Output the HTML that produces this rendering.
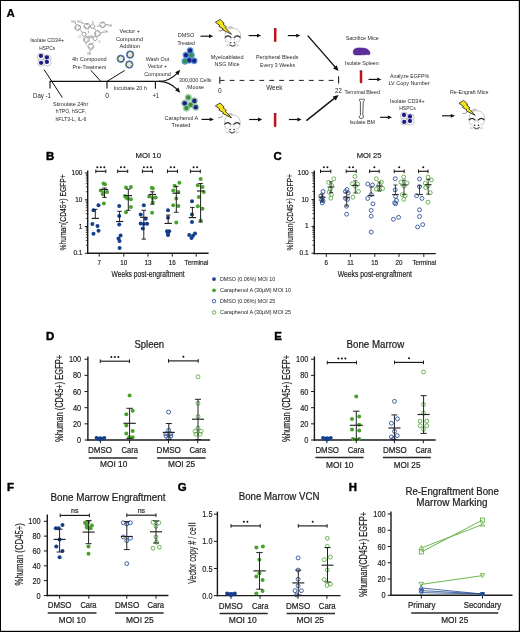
<!DOCTYPE html>
<html><head><meta charset="utf-8"><style>
html,body{margin:0;padding:0;background:#fff;}
body{width:520px;height:632px;overflow:hidden;}
svg{display:block;font-family:"Liberation Sans", sans-serif;will-change:transform;}
</style></head><body>
<svg width="520" height="632" viewBox="0 0 520 632">
<rect x="0" y="0" width="520" height="632" fill="#fff"/>
<text x="6.50" y="16.50" font-size="11.6" text-anchor="start" font-weight="bold" fill="#000" stroke="#000" stroke-width="0.2">A</text>
<text x="30.20" y="42.30" font-size="6.0" text-anchor="start" textLength="33.80" lengthAdjust="spacingAndGlyphs" fill="#2a2a2a">Isolate CD34+</text>
<text x="39.20" y="49.80" font-size="6.0" text-anchor="start" textLength="15.90" lengthAdjust="spacingAndGlyphs" fill="#2a2a2a">HSPCs</text>
<circle cx="41.00" cy="56.70" r="3.7" fill="#fff" stroke="#a0a0a0" stroke-width="0.6"/>
<circle cx="47.40" cy="58.40" r="3.7" fill="#fff" stroke="#a0a0a0" stroke-width="0.6"/>
<circle cx="41.20" cy="62.70" r="3.5" fill="#fff" stroke="#a0a0a0" stroke-width="0.6"/>
<circle cx="47.40" cy="62.30" r="3.7" fill="#fff" stroke="#a0a0a0" stroke-width="0.6"/>
<circle cx="40.90" cy="55.90" r="2.15" fill="#1d1d8a" stroke="none" stroke-width="0"/>
<circle cx="46.90" cy="57.30" r="2.15" fill="#1d1d8a" stroke="none" stroke-width="0"/>
<circle cx="41.10" cy="62.80" r="2.15" fill="#1d1d8a" stroke="none" stroke-width="0"/>
<circle cx="46.90" cy="61.90" r="2.15" fill="#1d1d8a" stroke="none" stroke-width="0"/>
<line x1="44.00" y1="69.50" x2="62.30" y2="97.50" stroke="#111" stroke-width="1.0"/>
<line x1="49.60" y1="81.40" x2="160.50" y2="81.40" stroke="#111" stroke-width="1.2"/>
<line x1="50.00" y1="81.40" x2="50.00" y2="88.60" stroke="#111" stroke-width="1.1"/>
<text x="33.00" y="97.60" font-size="6.8" text-anchor="start" textLength="18.00" lengthAdjust="spacingAndGlyphs" fill="#1c1c1c" stroke="none">Day -1</text>
<text x="53.00" y="106.00" font-size="6.0" text-anchor="start" textLength="35.20" lengthAdjust="spacingAndGlyphs" fill="#2a2a2a">Stimulate 24hr</text>
<text x="55.80" y="113.40" font-size="6.0" text-anchor="start" textLength="30.00" lengthAdjust="spacingAndGlyphs" fill="#2a2a2a">hTPO, hSCF,</text>
<text x="55.40" y="120.70" font-size="6.0" text-anchor="start" textLength="31.10" lengthAdjust="spacingAndGlyphs" fill="#2a2a2a">hFLT3-L, IL-6</text>
<path d="M80.38,29.15 L77.70,30.70 L75.02,29.15 L75.02,26.05 L77.70,24.50 L80.38,26.05 Z M90.00,26.20 L88.45,28.88 L85.35,28.88 L83.80,26.20 L85.35,23.52 L88.45,23.52 Z M105.70,24.80 L104.15,27.48 L101.05,27.48 L99.50,24.80 L101.05,22.12 L104.15,22.12 Z M100.18,35.05 L97.50,36.60 L94.82,35.05 L94.82,31.95 L97.50,30.40 L100.18,31.95 Z M89.18,41.15 L86.50,42.70 L83.82,41.15 L83.82,38.05 L86.50,36.50 L89.18,38.05 Z M93.90,46.40 L92.35,49.08 L89.25,49.08 L87.70,46.40 L89.25,43.72 L92.35,43.72 Z M92.60,24.10 L94.79,25.69 L93.95,28.26 L91.25,28.26 L90.41,25.69 Z M81.70,34.30 L83.29,32.11 L85.86,32.95 L85.86,35.65 L83.29,36.49 Z M97.30,38.60 L95.71,40.79 L93.14,39.95 L93.14,37.25 L95.71,36.41 Z M79.53,28.65 L77.70,29.71 M75.87,28.65 L75.87,26.55 M77.70,25.49 L79.53,26.55 M89.01,26.20 L87.95,28.03 M85.85,28.03 L84.79,26.20 M85.85,24.37 L87.95,24.37 M104.71,24.80 L103.65,26.63 M101.55,26.63 L100.49,24.80 M101.55,22.97 L103.65,22.97 M99.33,34.55 L97.50,35.61 M95.67,34.55 L95.67,32.45 M97.50,31.39 L99.33,32.45 M88.33,40.65 L86.50,41.71 M84.67,40.65 L84.67,38.55 M86.50,37.49 L88.33,38.55 M92.91,46.40 L91.85,48.23 M89.75,48.23 L88.69,46.40 M89.75,44.57 L91.85,44.57 M74.6,21.8 L76.2,24.6 M80.6,22.4 L84.2,23.6 M105.7,24.8 L108.2,24.6 M100.6,33.2 L104.0,31.8 M80.4,30.2 L82.4,32.6 M89.6,37.8 L93.0,37.0 M90.8,49.5 L89.4,52.0 M87.6,36.4 L93.4,36.0 M94.6,28.4 L96.2,30.6 M99.4,26.0 L97.0,26.4 M88.2,30.6 L88.4,33.0 M93.4,42.2 L92.6,43.4 M84.8,43.0 L86.6,44.6" stroke="#5a5a5a" stroke-width="0.55" fill="none"/>
<text x="71.60" y="22.50" font-size="2.6" text-anchor="start" fill="#666">HO</text>
<text x="77.60" y="23.10" font-size="2.6" text-anchor="start" fill="#666">HO</text>
<text x="107.80" y="26.80" font-size="2.6" text-anchor="start" fill="#666">OH</text>
<text x="103.80" y="33.40" font-size="2.6" text-anchor="start" fill="#666">OH</text>
<text x="92.00" y="23.80" font-size="2.6" text-anchor="start" fill="#666">O</text>
<text x="78.40" y="38.20" font-size="2.6" text-anchor="start" fill="#666">O</text>
<text x="98.40" y="43.00" font-size="2.6" text-anchor="start" fill="#666">O</text>
<text x="87.00" y="54.80" font-size="2.6" text-anchor="start" fill="#666">OH</text>
<text x="72.00" y="61.00" font-size="6.0" text-anchor="start" textLength="34.60" lengthAdjust="spacingAndGlyphs" fill="#2a2a2a">4h Compound</text>
<text x="72.60" y="68.80" font-size="6.0" text-anchor="start" textLength="33.40" lengthAdjust="spacingAndGlyphs" fill="#2a2a2a">Pre-Treatment</text>
<line x1="90.80" y1="70.20" x2="100.80" y2="81.40" stroke="#111" stroke-width="1.0"/>
<line x1="124.60" y1="70.50" x2="107.00" y2="81.40" stroke="#111" stroke-width="1.0"/>
<line x1="107.00" y1="81.40" x2="107.00" y2="88.60" stroke="#111" stroke-width="1.1"/>
<text x="107.20" y="97.80" font-size="6.8" text-anchor="middle" fill="#1c1c1c" stroke="none">0</text>
<text x="119.50" y="32.80" font-size="6.0" text-anchor="start" textLength="20.50" lengthAdjust="spacingAndGlyphs" fill="#2a2a2a">Vector +</text>
<text x="116.00" y="40.60" font-size="6.0" text-anchor="start" textLength="27.00" lengthAdjust="spacingAndGlyphs" fill="#2a2a2a">Compound</text>
<text x="119.50" y="48.00" font-size="6.0" text-anchor="start" textLength="20.50" lengthAdjust="spacingAndGlyphs" fill="#2a2a2a">Addition</text>
<circle cx="120.80" cy="58.80" r="3.75" fill="#f2f2f6" stroke="#5060d8" stroke-width="0.9"/>
<circle cx="120.80" cy="58.80" r="3.0" fill="none" stroke="#2d5e2d" stroke-width="1.0"/>
<circle cx="120.80" cy="58.80" r="2.0" fill="#e2e2e2" stroke="none" stroke-width="0"/>
<circle cx="120.30" cy="58.30" r="0.8" fill="#f4f4f4" stroke="none" stroke-width="0"/>
<circle cx="130.10" cy="54.60" r="3.75" fill="#f2f2f6" stroke="#5060d8" stroke-width="0.9"/>
<circle cx="130.10" cy="54.60" r="3.0" fill="none" stroke="#2d5e2d" stroke-width="1.0"/>
<circle cx="130.10" cy="54.60" r="2.0" fill="#e2e2e2" stroke="none" stroke-width="0"/>
<circle cx="129.60" cy="54.10" r="0.8" fill="#f4f4f4" stroke="none" stroke-width="0"/>
<circle cx="129.30" cy="64.50" r="3.75" fill="#f2f2f6" stroke="#5060d8" stroke-width="0.9"/>
<circle cx="129.30" cy="64.50" r="3.0" fill="none" stroke="#2d5e2d" stroke-width="1.0"/>
<circle cx="129.30" cy="64.50" r="2.0" fill="#e2e2e2" stroke="none" stroke-width="0"/>
<circle cx="128.80" cy="64.00" r="0.8" fill="#f4f4f4" stroke="none" stroke-width="0"/>
<text x="113.80" y="90.30" font-size="6.0" text-anchor="start" textLength="33.20" lengthAdjust="spacingAndGlyphs" fill="#2a2a2a">Incubate 20 h</text>
<line x1="155.40" y1="81.40" x2="155.40" y2="88.70" stroke="#111" stroke-width="1.1"/>
<text x="152.40" y="97.60" font-size="6.8" text-anchor="start" textLength="6.60" lengthAdjust="spacingAndGlyphs" fill="#1c1c1c" stroke="none">+1</text>
<text x="145.70" y="60.60" font-size="6.0" text-anchor="start" textLength="23.50" lengthAdjust="spacingAndGlyphs" fill="#2a2a2a">Wash Out</text>
<text x="147.70" y="68.00" font-size="6.0" text-anchor="start" textLength="19.50" lengthAdjust="spacingAndGlyphs" fill="#2a2a2a">Vector +</text>
<text x="144.20" y="75.60" font-size="6.0" text-anchor="start" textLength="26.60" lengthAdjust="spacingAndGlyphs" fill="#2a2a2a">Compound</text>
<path d="M159,81.4 C167,81.4 172,78.5 177.2,73.3" stroke="#111" stroke-width="1.1" fill="none"/>
<path d="M159,81.4 C167,81.4 172,84.3 177.2,89.4" stroke="#111" stroke-width="1.1" fill="none"/>
<polygon points="180.2,69.8 175.2,72.2 178.4,75.2" fill="#111"/>
<polygon points="180.2,92.8 175.2,90.6 178.4,87.5" fill="#111"/>
<text x="179.00" y="81.50" font-size="6.0" text-anchor="start" textLength="32.50" lengthAdjust="spacingAndGlyphs" fill="#2a2a2a">300,000 Cells</text>
<text x="186.60" y="88.80" font-size="6.0" text-anchor="start" textLength="17.40" lengthAdjust="spacingAndGlyphs" fill="#2a2a2a">/Mouse</text>
<text x="177.70" y="36.80" font-size="6.0" text-anchor="start" textLength="16.60" lengthAdjust="spacingAndGlyphs" fill="#2a2a2a">DMSO</text>
<text x="177.40" y="44.60" font-size="6.0" text-anchor="start" textLength="17.60" lengthAdjust="spacingAndGlyphs" fill="#2a2a2a">Treated</text>
<circle cx="189.30" cy="60.20" r="3.1" fill="#62b4ea" stroke="#2c6cc4" stroke-width="0.5"/>
<circle cx="190.10" cy="50.50" r="3.1" fill="#62b4ea" stroke="#2c6cc4" stroke-width="0.5"/>
<circle cx="185.90" cy="55.10" r="3.1" fill="#62b4ea" stroke="#2c6cc4" stroke-width="0.5"/>
<circle cx="191.40" cy="55.10" r="3.1" fill="#62b4ea" stroke="#2c6cc4" stroke-width="0.5"/>
<circle cx="184.90" cy="61.30" r="3.1" fill="#62b4ea" stroke="#2c6cc4" stroke-width="0.5"/>
<circle cx="194.20" cy="60.80" r="3.1" fill="#62b4ea" stroke="#2c6cc4" stroke-width="0.5"/>
<circle cx="189.30" cy="60.20" r="2.2" fill="#1e1e86" stroke="none" stroke-width="0"/>
<circle cx="190.10" cy="50.50" r="2.2" fill="#1e1e86" stroke="none" stroke-width="0"/>
<circle cx="185.90" cy="55.10" r="2.2" fill="#1e1e86" stroke="none" stroke-width="0"/>
<circle cx="191.40" cy="55.10" r="2.2" fill="#3d8d3d" stroke="none" stroke-width="0"/>
<circle cx="184.90" cy="61.30" r="2.2" fill="#3d8d3d" stroke="none" stroke-width="0"/>
<circle cx="194.20" cy="60.80" r="2.2" fill="#1e1e86" stroke="none" stroke-width="0"/>
<text x="164.50" y="120.00" font-size="6.0" text-anchor="start" textLength="33.70" lengthAdjust="spacingAndGlyphs" fill="#2a2a2a">Caraphenol A</text>
<text x="171.60" y="126.80" font-size="6.0" text-anchor="start" textLength="18.80" lengthAdjust="spacingAndGlyphs" fill="#2a2a2a">Treated</text>
<circle cx="188.30" cy="97.50" r="3.3" fill="#b2dcc6" stroke="#78b888" stroke-width="0.5"/>
<circle cx="194.40" cy="100.90" r="3.3" fill="#b2dcc6" stroke="#78b888" stroke-width="0.5"/>
<circle cx="184.70" cy="103.20" r="3.3" fill="#b2dcc6" stroke="#78b888" stroke-width="0.5"/>
<circle cx="190.60" cy="104.70" r="3.3" fill="#b2dcc6" stroke="#78b888" stroke-width="0.5"/>
<circle cx="186.40" cy="108.10" r="3.3" fill="#b2dcc6" stroke="#78b888" stroke-width="0.5"/>
<circle cx="195.70" cy="107.30" r="3.3" fill="#b2dcc6" stroke="#78b888" stroke-width="0.5"/>
<circle cx="188.30" cy="97.50" r="2.3" fill="#3d8d3d" stroke="none" stroke-width="0"/>
<circle cx="194.40" cy="100.90" r="2.3" fill="#1e1e86" stroke="none" stroke-width="0"/>
<circle cx="184.70" cy="103.20" r="2.3" fill="#1e1e86" stroke="none" stroke-width="0"/>
<circle cx="190.60" cy="104.70" r="2.3" fill="#3d8d3d" stroke="none" stroke-width="0"/>
<circle cx="186.40" cy="108.10" r="2.3" fill="#3d8d3d" stroke="none" stroke-width="0"/>
<circle cx="195.70" cy="107.30" r="2.3" fill="#1e1e86" stroke="none" stroke-width="0"/>
<line x1="200.50" y1="36.20" x2="209.50" y2="36.20" stroke="#111" stroke-width="1.15"/>
<polygon points="213.20,36.20 209.00,38.10 209.00,34.30" fill="#111"/>
<line x1="201.50" y1="119.40" x2="210.30" y2="119.40" stroke="#111" stroke-width="1.15"/>
<polygon points="214.00,119.40 209.80,121.30 209.80,117.50" fill="#111"/>
<line x1="248.60" y1="35.60" x2="257.50" y2="35.60" stroke="#111" stroke-width="1.15"/>
<polygon points="261.20,35.60 257.00,37.50 257.00,33.70" fill="#111"/>
<line x1="287.80" y1="35.60" x2="296.70" y2="35.60" stroke="#111" stroke-width="1.15"/>
<polygon points="300.40,35.60 296.20,37.50 296.20,33.70" fill="#111"/>
<line x1="249.20" y1="119.50" x2="258.50" y2="119.50" stroke="#111" stroke-width="1.15"/>
<polygon points="262.20,119.50 258.00,121.40 258.00,117.60" fill="#111"/>
<line x1="288.90" y1="119.50" x2="297.90" y2="119.50" stroke="#111" stroke-width="1.15"/>
<polygon points="301.60,119.50 297.40,121.40 297.40,117.60" fill="#111"/>
<line x1="307.70" y1="35.60" x2="335.25" y2="67.16" stroke="#111" stroke-width="1.4"/>
<polygon points="338.60,71.00 333.03,68.43 336.80,65.14" fill="#111"/>
<line x1="306.40" y1="120.60" x2="334.61" y2="98.17" stroke="#111" stroke-width="1.4"/>
<polygon points="338.60,95.00 335.77,100.44 332.66,96.53" fill="#111"/>
<line x1="368.50" y1="79.40" x2="377.70" y2="79.40" stroke="#111" stroke-width="1.15"/>
<polygon points="381.40,79.40 377.20,81.30 377.20,77.50" fill="#111"/>
<line x1="380.00" y1="117.30" x2="388.30" y2="117.30" stroke="#111" stroke-width="1.15"/>
<polygon points="392.00,117.30 387.80,119.20 387.80,115.40" fill="#111"/>
<line x1="442.00" y1="115.80" x2="451.30" y2="115.80" stroke="#111" stroke-width="1.15"/>
<polygon points="455.00,115.80 450.80,117.70 450.80,113.90" fill="#111"/>
<rect x="273.95" y="28.20" width="2.5" height="13.80" rx="1" fill="#c3121c"/>
<rect x="273.95" y="28.20" width="2.5" height="1.2" fill="#7a2a30"/>
<rect x="273.85" y="113.10" width="2.5" height="13.80" rx="1" fill="#c3121c"/>
<rect x="273.85" y="113.10" width="2.5" height="1.2" fill="#7a2a30"/>
<rect x="359.75" y="70.50" width="2.5" height="12.70" rx="1" fill="#c3121c"/>
<rect x="359.75" y="70.50" width="2.5" height="1.2" fill="#7a2a30"/>
<line x1="219.80" y1="80.40" x2="338.60" y2="80.40" stroke="#222" stroke-width="1.0" stroke-dasharray="4.8 5.1"/>
<line x1="219.80" y1="76.80" x2="219.80" y2="83.80" stroke="#222" stroke-width="1.1"/>
<line x1="338.60" y1="76.20" x2="338.60" y2="83.60" stroke="#222" stroke-width="1.1"/>
<text x="219.80" y="92.80" font-size="6.6" text-anchor="middle" fill="#1c1c1c" stroke="none">0</text>
<text x="266.20" y="90.00" font-size="6.6" text-anchor="start" textLength="16.20" lengthAdjust="spacingAndGlyphs" fill="#1c1c1c" stroke="none">Week</text>
<text x="335.00" y="93.20" font-size="7.0" text-anchor="start" textLength="6.80" lengthAdjust="spacingAndGlyphs" fill="#1c1c1c" stroke="none">22</text>
<text x="210.80" y="59.00" font-size="6.0" text-anchor="start" textLength="32.70" lengthAdjust="spacingAndGlyphs" fill="#2a2a2a">Myeloablated</text>
<text x="214.60" y="66.40" font-size="6.0" text-anchor="start" textLength="24.90" lengthAdjust="spacingAndGlyphs" fill="#2a2a2a">NSG Mice</text>
<g transform="translate(0.00,0.00)"><path d="M218.6,30.8 Q220.6,31.6 223.2,29.6" stroke="#666" stroke-width="0.7" fill="none"/><path d="M226.6,30.6 C228,27.6 235.5,27.2 238.6,30.4 C240.6,32.6 241,35.6 240.2,37.6 L225,37.6 C224.8,34.6 225.4,32.2 226.6,30.6 Z" fill="#fff" stroke="#8c8c8c" stroke-width="0.5"/><path d="M227.0,27.9 C228.6,25.6 232.2,25.6 233.4,27.6 C232.2,28.6 229.2,28.8 227.0,27.9 Z" fill="#c4c4c4"/><circle cx="228.0" cy="38.7" r="3.1" fill="#fff" stroke="#999" stroke-width="0.5"/><circle cx="237.3" cy="38.7" r="3.1" fill="#fff" stroke="#999" stroke-width="0.5"/><path d="M229.0,40.2 C228.4,44.2 230.4,46.7 232.6,46.7 C234.8,46.7 236.8,44.2 236.2,40.2 Z" fill="#fff" stroke="none"/><path d="M228.8,43.4 C229.6,45.6 231,46.7 232.6,46.7 C234.2,46.7 235.6,45.6 236.4,43.4" fill="none" stroke="#999" stroke-width="0.5"/><path d="M224.9,37.6 Q228,34.1 231.2,37.6" stroke="#333" stroke-width="1.2" fill="none"/><path d="M234.1,37.6 Q237.3,34.1 240.5,37.6" stroke="#333" stroke-width="1.2" fill="none"/><circle cx="230.6" cy="42.7" r="0.8" fill="#222"/><circle cx="234.5" cy="42.7" r="0.8" fill="#222"/><path d="M229.5,44.9 Q232.5,47.2 235.6,44.9" stroke="#2a2a2a" stroke-width="0.9" fill="none"/><path d="M226.6,43.8 L228.6,46.9 M225.8,45.6 L228.4,45.8 M238.6,43.8 L236.6,46.9 M239.4,45.6 L236.8,45.8" stroke="#b0b0b0" stroke-width="0.5" fill="none"/></g>
<polygon points="215.40,22.30 220.00,19.40 224.20,23.30 223.00,24.00 226.40,26.90 225.20,27.60 231.60,34.30 222.60,29.80 223.40,29.00 218.80,26.30 219.90,25.50" fill="#f2e418" stroke="#111" stroke-width="0.75" stroke-linejoin="miter"/>
<g transform="translate(-0.40,86.80)"><path d="M218.6,30.8 Q220.6,31.6 223.2,29.6" stroke="#666" stroke-width="0.7" fill="none"/><path d="M226.6,30.6 C228,27.6 235.5,27.2 238.6,30.4 C240.6,32.6 241,35.6 240.2,37.6 L225,37.6 C224.8,34.6 225.4,32.2 226.6,30.6 Z" fill="#fff" stroke="#8c8c8c" stroke-width="0.5"/><path d="M227.0,27.9 C228.6,25.6 232.2,25.6 233.4,27.6 C232.2,28.6 229.2,28.8 227.0,27.9 Z" fill="#c4c4c4"/><circle cx="228.0" cy="38.7" r="3.1" fill="#fff" stroke="#999" stroke-width="0.5"/><circle cx="237.3" cy="38.7" r="3.1" fill="#fff" stroke="#999" stroke-width="0.5"/><path d="M229.0,40.2 C228.4,44.2 230.4,46.7 232.6,46.7 C234.8,46.7 236.8,44.2 236.2,40.2 Z" fill="#fff" stroke="none"/><path d="M228.8,43.4 C229.6,45.6 231,46.7 232.6,46.7 C234.2,46.7 235.6,45.6 236.4,43.4" fill="none" stroke="#999" stroke-width="0.5"/><path d="M224.9,37.6 Q228,34.1 231.2,37.6" stroke="#333" stroke-width="1.2" fill="none"/><path d="M234.1,37.6 Q237.3,34.1 240.5,37.6" stroke="#333" stroke-width="1.2" fill="none"/><circle cx="230.6" cy="42.7" r="0.8" fill="#222"/><circle cx="234.5" cy="42.7" r="0.8" fill="#222"/><path d="M229.5,44.9 Q232.5,47.2 235.6,44.9" stroke="#2a2a2a" stroke-width="0.9" fill="none"/><path d="M226.6,43.8 L228.6,46.9 M225.8,45.6 L228.4,45.8 M238.6,43.8 L236.6,46.9 M239.4,45.6 L236.8,45.8" stroke="#b0b0b0" stroke-width="0.5" fill="none"/></g>
<polygon points="215.40,105.90 220.00,103.00 224.20,106.90 223.00,107.60 226.40,110.50 225.20,111.20 231.60,117.90 222.60,113.40 223.40,112.60 218.80,109.90 219.90,109.10" fill="#f2e418" stroke="#111" stroke-width="0.75" stroke-linejoin="miter"/>
<g transform="translate(244.00,82.60)"><path d="M218.6,30.8 Q220.6,31.6 223.2,29.6" stroke="#666" stroke-width="0.7" fill="none"/><path d="M226.6,30.6 C228,27.6 235.5,27.2 238.6,30.4 C240.6,32.6 241,35.6 240.2,37.6 L225,37.6 C224.8,34.6 225.4,32.2 226.6,30.6 Z" fill="#fff" stroke="#8c8c8c" stroke-width="0.5"/><path d="M227.0,27.9 C228.6,25.6 232.2,25.6 233.4,27.6 C232.2,28.6 229.2,28.8 227.0,27.9 Z" fill="#c4c4c4"/><circle cx="228.0" cy="38.7" r="3.1" fill="#fff" stroke="#999" stroke-width="0.5"/><circle cx="237.3" cy="38.7" r="3.1" fill="#fff" stroke="#999" stroke-width="0.5"/><path d="M229.0,40.2 C228.4,44.2 230.4,46.7 232.6,46.7 C234.8,46.7 236.8,44.2 236.2,40.2 Z" fill="#fff" stroke="none"/><path d="M228.8,43.4 C229.6,45.6 231,46.7 232.6,46.7 C234.2,46.7 235.6,45.6 236.4,43.4" fill="none" stroke="#999" stroke-width="0.5"/><path d="M224.9,37.6 Q228,34.1 231.2,37.6" stroke="#333" stroke-width="1.2" fill="none"/><path d="M234.1,37.6 Q237.3,34.1 240.5,37.6" stroke="#333" stroke-width="1.2" fill="none"/><circle cx="230.6" cy="42.7" r="0.8" fill="#222"/><circle cx="234.5" cy="42.7" r="0.8" fill="#222"/><path d="M229.5,44.9 Q232.5,47.2 235.6,44.9" stroke="#2a2a2a" stroke-width="0.9" fill="none"/><path d="M226.6,43.8 L228.6,46.9 M225.8,45.6 L228.4,45.8 M238.6,43.8 L236.6,46.9 M239.4,45.6 L236.8,45.8" stroke="#b0b0b0" stroke-width="0.5" fill="none"/></g>
<polygon points="459.00,103.30 463.60,100.40 467.80,104.30 466.60,105.00 470.00,107.90 468.80,108.60 475.20,115.30 466.20,110.80 467.00,110.00 462.40,107.30 463.50,106.50" fill="#f2e418" stroke="#111" stroke-width="0.75" stroke-linejoin="miter"/>
<text x="256.00" y="59.00" font-size="6.0" text-anchor="start" textLength="42.50" lengthAdjust="spacingAndGlyphs" fill="#2a2a2a">Peripheral Bleeds</text>
<text x="260.00" y="66.80" font-size="6.0" text-anchor="start" textLength="35.00" lengthAdjust="spacingAndGlyphs" fill="#2a2a2a">Every 3 Weeks</text>
<text x="345.70" y="40.00" font-size="6.0" text-anchor="start" textLength="33.10" lengthAdjust="spacingAndGlyphs" fill="#2a2a2a">Sacrifice Mice</text>
<path d="M354,49.6 C355.5,47.6 359,47.8 363,48.0 C367,48.2 369.6,50.2 370,52.6 C370.3,54.6 369,55.2 367.5,54.6 C366,54.2 365,55.2 363.2,54.8 C361.5,54.4 360.5,55.4 358.8,55.0 C357,54.6 355.4,55.4 354,54.4 C352.8,53.4 353,50.8 354,49.6 Z" stroke="#3b1a80" stroke-width="0.5" fill="#5b2e9a"/>
<text x="345.00" y="64.80" font-size="6.0" text-anchor="start" textLength="33.80" lengthAdjust="spacingAndGlyphs" fill="#2a2a2a">Isolate Spleen</text>
<text x="344.60" y="93.80" font-size="6.0" text-anchor="start" textLength="35.40" lengthAdjust="spacingAndGlyphs" fill="#2a2a2a">Terminal Bleed</text>
<path d="M359.6,100.2 C359,99 360.6,98.6 361.2,99.6 C362,99.2 363.2,98.8 364.2,99.2 C365,99.8 364.4,101 363.2,101.6 L362.8,115.2 C364,116 363.6,118.4 361.8,118.3 C360.6,118.8 359,118.2 359.2,116.8 C359.4,116 360,115.6 360.4,115.2 L360.4,101.8 C359.8,101.4 359.4,100.8 359.6,100.2 Z" stroke="#111" stroke-width="0.7" fill="#fff"/>
<text x="349.50" y="123.60" font-size="6.0" text-anchor="start" textLength="25.50" lengthAdjust="spacingAndGlyphs" fill="#2a2a2a">Isolate BM</text>
<text x="390.00" y="77.50" font-size="6.0" text-anchor="start" textLength="39.20" lengthAdjust="spacingAndGlyphs" fill="#2a2a2a">Analyze EGFP%</text>
<text x="388.50" y="85.20" font-size="6.0" text-anchor="start" textLength="41.20" lengthAdjust="spacingAndGlyphs" fill="#2a2a2a">LV Copy Number</text>
<text x="390.00" y="102.60" font-size="6.0" text-anchor="start" textLength="34.60" lengthAdjust="spacingAndGlyphs" fill="#2a2a2a">Isolate CD34+</text>
<text x="399.20" y="110.00" font-size="6.0" text-anchor="start" textLength="16.50" lengthAdjust="spacingAndGlyphs" fill="#2a2a2a">HSPCs</text>
<circle cx="404.10" cy="115.80" r="3.7" fill="#fff" stroke="#a0a0a0" stroke-width="0.6"/>
<circle cx="410.50" cy="117.50" r="3.7" fill="#fff" stroke="#a0a0a0" stroke-width="0.6"/>
<circle cx="404.30" cy="121.80" r="3.5" fill="#fff" stroke="#a0a0a0" stroke-width="0.6"/>
<circle cx="410.50" cy="121.40" r="3.7" fill="#fff" stroke="#a0a0a0" stroke-width="0.6"/>
<circle cx="404.00" cy="115.00" r="2.15" fill="#1d1d8a" stroke="none" stroke-width="0"/>
<circle cx="410.00" cy="116.40" r="2.15" fill="#1d1d8a" stroke="none" stroke-width="0"/>
<circle cx="404.20" cy="121.90" r="2.15" fill="#1d1d8a" stroke="none" stroke-width="0"/>
<circle cx="410.00" cy="121.00" r="2.15" fill="#1d1d8a" stroke="none" stroke-width="0"/>
<text x="450.00" y="93.80" font-size="6.0" text-anchor="start" textLength="38.50" lengthAdjust="spacingAndGlyphs" fill="#2a2a2a">Re-Engraft Mice</text>
<text x="46.00" y="159.50" font-size="11.4" text-anchor="start" font-weight="bold" fill="#000" stroke="#000" stroke-width="0.45">B</text>
<text x="135.60" y="157.80" font-size="8.0" text-anchor="start" textLength="25.40" lengthAdjust="spacingAndGlyphs" fill="#1c1c1c" stroke="#1c1c1c" stroke-width="0.18">MOI 10</text>
<line x1="87.70" y1="170.60" x2="87.70" y2="254.00" stroke="#1a1a1a" stroke-width="1.4"/>
<line x1="87.00" y1="253.30" x2="208.60" y2="253.30" stroke="#1a1a1a" stroke-width="1.4"/>
<line x1="84.90" y1="173.00" x2="87.70" y2="173.00" stroke="#1a1a1a" stroke-width="1.0"/>
<text x="71.59" y="175.00" font-size="7.2" text-anchor="start" textLength="10.81" lengthAdjust="spacingAndGlyphs" fill="#1c1c1c" stroke="#1c1c1c" stroke-width="0.18">100</text>
<line x1="84.90" y1="199.77" x2="87.70" y2="199.77" stroke="#1a1a1a" stroke-width="1.0"/>
<text x="75.19" y="201.77" font-size="7.2" text-anchor="start" textLength="7.21" lengthAdjust="spacingAndGlyphs" fill="#1c1c1c" stroke="#1c1c1c" stroke-width="0.18">10</text>
<line x1="84.90" y1="226.54" x2="87.70" y2="226.54" stroke="#1a1a1a" stroke-width="1.0"/>
<text x="78.80" y="228.54" font-size="7.2" text-anchor="start" textLength="3.60" lengthAdjust="spacingAndGlyphs" fill="#1c1c1c" stroke="#1c1c1c" stroke-width="0.18">1</text>
<line x1="84.90" y1="253.31" x2="87.70" y2="253.31" stroke="#1a1a1a" stroke-width="1.0"/>
<text x="73.39" y="255.31" font-size="7.2" text-anchor="start" textLength="9.01" lengthAdjust="spacingAndGlyphs" fill="#1c1c1c" stroke="#1c1c1c" stroke-width="0.18">0.1</text>
<line x1="85.80" y1="191.71" x2="87.70" y2="191.71" stroke="#1a1a1a" stroke-width="0.8"/>
<line x1="85.80" y1="187.00" x2="87.70" y2="187.00" stroke="#1a1a1a" stroke-width="0.8"/>
<line x1="85.80" y1="183.65" x2="87.70" y2="183.65" stroke="#1a1a1a" stroke-width="0.8"/>
<line x1="85.80" y1="181.06" x2="87.70" y2="181.06" stroke="#1a1a1a" stroke-width="0.8"/>
<line x1="85.80" y1="178.94" x2="87.70" y2="178.94" stroke="#1a1a1a" stroke-width="0.8"/>
<line x1="85.80" y1="177.15" x2="87.70" y2="177.15" stroke="#1a1a1a" stroke-width="0.8"/>
<line x1="85.80" y1="175.59" x2="87.70" y2="175.59" stroke="#1a1a1a" stroke-width="0.8"/>
<line x1="85.80" y1="174.22" x2="87.70" y2="174.22" stroke="#1a1a1a" stroke-width="0.8"/>
<line x1="85.80" y1="218.48" x2="87.70" y2="218.48" stroke="#1a1a1a" stroke-width="0.8"/>
<line x1="85.80" y1="213.77" x2="87.70" y2="213.77" stroke="#1a1a1a" stroke-width="0.8"/>
<line x1="85.80" y1="210.42" x2="87.70" y2="210.42" stroke="#1a1a1a" stroke-width="0.8"/>
<line x1="85.80" y1="207.83" x2="87.70" y2="207.83" stroke="#1a1a1a" stroke-width="0.8"/>
<line x1="85.80" y1="205.71" x2="87.70" y2="205.71" stroke="#1a1a1a" stroke-width="0.8"/>
<line x1="85.80" y1="203.92" x2="87.70" y2="203.92" stroke="#1a1a1a" stroke-width="0.8"/>
<line x1="85.80" y1="202.36" x2="87.70" y2="202.36" stroke="#1a1a1a" stroke-width="0.8"/>
<line x1="85.80" y1="200.99" x2="87.70" y2="200.99" stroke="#1a1a1a" stroke-width="0.8"/>
<line x1="85.80" y1="245.25" x2="87.70" y2="245.25" stroke="#1a1a1a" stroke-width="0.8"/>
<line x1="85.80" y1="240.54" x2="87.70" y2="240.54" stroke="#1a1a1a" stroke-width="0.8"/>
<line x1="85.80" y1="237.19" x2="87.70" y2="237.19" stroke="#1a1a1a" stroke-width="0.8"/>
<line x1="85.80" y1="234.60" x2="87.70" y2="234.60" stroke="#1a1a1a" stroke-width="0.8"/>
<line x1="85.80" y1="232.48" x2="87.70" y2="232.48" stroke="#1a1a1a" stroke-width="0.8"/>
<line x1="85.80" y1="230.69" x2="87.70" y2="230.69" stroke="#1a1a1a" stroke-width="0.8"/>
<line x1="85.80" y1="229.13" x2="87.70" y2="229.13" stroke="#1a1a1a" stroke-width="0.8"/>
<line x1="85.80" y1="227.76" x2="87.70" y2="227.76" stroke="#1a1a1a" stroke-width="0.8"/>
<text transform="translate(65.80,250.40) rotate(-90)" x="0" y="0" font-size="9.4" textLength="76.00" lengthAdjust="spacingAndGlyphs" fill="#1c1c1c" stroke="#1c1c1c" stroke-width="0.2">%human(CD45+) EGFP+</text>
<line x1="99.20" y1="253.30" x2="99.20" y2="256.60" stroke="#1a1a1a" stroke-width="1.0"/>
<text x="99.20" y="265.00" font-size="7.6" text-anchor="middle" textLength="3.47" lengthAdjust="spacingAndGlyphs" fill="#1c1c1c" stroke="#1c1c1c" stroke-width="0.18">7</text>
<line x1="123.80" y1="253.30" x2="123.80" y2="256.60" stroke="#1a1a1a" stroke-width="1.0"/>
<text x="123.80" y="265.00" font-size="7.6" text-anchor="middle" textLength="6.93" lengthAdjust="spacingAndGlyphs" fill="#1c1c1c" stroke="#1c1c1c" stroke-width="0.18">10</text>
<line x1="148.00" y1="253.30" x2="148.00" y2="256.60" stroke="#1a1a1a" stroke-width="1.0"/>
<text x="148.00" y="265.00" font-size="7.6" text-anchor="middle" textLength="6.93" lengthAdjust="spacingAndGlyphs" fill="#1c1c1c" stroke="#1c1c1c" stroke-width="0.18">13</text>
<line x1="172.30" y1="253.30" x2="172.30" y2="256.60" stroke="#1a1a1a" stroke-width="1.0"/>
<text x="172.30" y="265.00" font-size="7.6" text-anchor="middle" textLength="6.93" lengthAdjust="spacingAndGlyphs" fill="#1c1c1c" stroke="#1c1c1c" stroke-width="0.18">16</text>
<line x1="196.20" y1="253.30" x2="196.20" y2="256.60" stroke="#1a1a1a" stroke-width="1.0"/>
<text x="184.60" y="265.00" font-size="7.4" text-anchor="start" textLength="23.90" lengthAdjust="spacingAndGlyphs" fill="#1c1c1c" stroke="#1c1c1c" stroke-width="0.18">Terminal</text>
<text x="111.50" y="276.80" font-size="9.3" text-anchor="start" textLength="73.10" lengthAdjust="spacingAndGlyphs" fill="#1c1c1c" stroke="#1c1c1c" stroke-width="0.18">Weeks post-engraftment</text>
<circle cx="98.50" cy="205.30" r="2.0" fill="#143f8c" stroke="none" stroke-width="0"/>
<circle cx="93.50" cy="210.30" r="2.0" fill="#143f8c" stroke="none" stroke-width="0"/>
<circle cx="92.40" cy="224.10" r="2.0" fill="#143f8c" stroke="none" stroke-width="0"/>
<circle cx="97.50" cy="226.00" r="2.0" fill="#143f8c" stroke="none" stroke-width="0"/>
<circle cx="98.50" cy="230.80" r="2.0" fill="#143f8c" stroke="none" stroke-width="0"/>
<circle cx="93.50" cy="233.80" r="2.0" fill="#143f8c" stroke="none" stroke-width="0"/>
<circle cx="103.50" cy="183.50" r="2.0" fill="#4aa22e" stroke="none" stroke-width="0"/>
<circle cx="105.00" cy="184.20" r="2.0" fill="#4aa22e" stroke="none" stroke-width="0"/>
<circle cx="100.70" cy="190.60" r="2.0" fill="#4aa22e" stroke="none" stroke-width="0"/>
<circle cx="103.50" cy="192.80" r="2.0" fill="#4aa22e" stroke="none" stroke-width="0"/>
<circle cx="107.00" cy="192.00" r="2.0" fill="#4aa22e" stroke="none" stroke-width="0"/>
<circle cx="102.80" cy="194.20" r="2.0" fill="#4aa22e" stroke="none" stroke-width="0"/>
<circle cx="103.80" cy="203.50" r="2.0" fill="#4aa22e" stroke="none" stroke-width="0"/>
<line x1="95.30" y1="209.40" x2="95.30" y2="218.40" stroke="#222" stroke-width="1.0"/>
<line x1="91.60" y1="218.40" x2="99.00" y2="218.40" stroke="#222" stroke-width="1.15"/>
<line x1="93.10" y1="209.40" x2="97.50" y2="209.40" stroke="#222" stroke-width="1.0"/>
<line x1="104.50" y1="188.00" x2="104.50" y2="197.40" stroke="#222" stroke-width="1.0"/>
<line x1="100.80" y1="189.50" x2="108.20" y2="189.50" stroke="#222" stroke-width="1.15"/>
<line x1="102.30" y1="188.00" x2="106.70" y2="188.00" stroke="#222" stroke-width="1.0"/>
<line x1="102.30" y1="197.40" x2="106.70" y2="197.40" stroke="#222" stroke-width="1.0"/>
<circle cx="119.20" cy="206.00" r="2.0" fill="#143f8c" stroke="none" stroke-width="0"/>
<circle cx="119.20" cy="216.00" r="2.0" fill="#143f8c" stroke="none" stroke-width="0"/>
<circle cx="119.20" cy="224.50" r="2.0" fill="#143f8c" stroke="none" stroke-width="0"/>
<circle cx="120.60" cy="235.50" r="2.0" fill="#143f8c" stroke="none" stroke-width="0"/>
<circle cx="118.50" cy="238.40" r="2.0" fill="#143f8c" stroke="none" stroke-width="0"/>
<circle cx="119.50" cy="240.90" r="2.0" fill="#143f8c" stroke="none" stroke-width="0"/>
<circle cx="119.60" cy="247.90" r="2.0" fill="#143f8c" stroke="none" stroke-width="0"/>
<circle cx="126.00" cy="187.50" r="2.0" fill="#4aa22e" stroke="none" stroke-width="0"/>
<circle cx="130.90" cy="187.00" r="2.0" fill="#4aa22e" stroke="none" stroke-width="0"/>
<circle cx="124.90" cy="196.00" r="2.0" fill="#4aa22e" stroke="none" stroke-width="0"/>
<circle cx="127.70" cy="198.50" r="2.0" fill="#4aa22e" stroke="none" stroke-width="0"/>
<circle cx="130.90" cy="199.20" r="2.0" fill="#4aa22e" stroke="none" stroke-width="0"/>
<circle cx="126.30" cy="197.80" r="2.0" fill="#4aa22e" stroke="none" stroke-width="0"/>
<circle cx="130.90" cy="207.00" r="2.0" fill="#4aa22e" stroke="none" stroke-width="0"/>
<circle cx="126.00" cy="212.30" r="2.0" fill="#4aa22e" stroke="none" stroke-width="0"/>
<line x1="119.60" y1="211.30" x2="119.60" y2="221.50" stroke="#222" stroke-width="1.0"/>
<line x1="115.90" y1="221.50" x2="123.30" y2="221.50" stroke="#222" stroke-width="1.15"/>
<line x1="117.40" y1="211.30" x2="121.80" y2="211.30" stroke="#222" stroke-width="1.0"/>
<line x1="128.30" y1="189.20" x2="128.30" y2="210.30" stroke="#222" stroke-width="1.0"/>
<line x1="124.60" y1="195.60" x2="132.00" y2="195.60" stroke="#222" stroke-width="1.15"/>
<line x1="126.10" y1="189.20" x2="130.50" y2="189.20" stroke="#222" stroke-width="1.0"/>
<line x1="126.10" y1="210.30" x2="130.50" y2="210.30" stroke="#222" stroke-width="1.0"/>
<circle cx="143.80" cy="205.30" r="2.0" fill="#143f8c" stroke="none" stroke-width="0"/>
<circle cx="140.70" cy="214.60" r="2.0" fill="#143f8c" stroke="none" stroke-width="0"/>
<circle cx="145.70" cy="218.80" r="2.0" fill="#143f8c" stroke="none" stroke-width="0"/>
<circle cx="140.70" cy="223.40" r="2.0" fill="#143f8c" stroke="none" stroke-width="0"/>
<circle cx="143.80" cy="224.10" r="2.0" fill="#143f8c" stroke="none" stroke-width="0"/>
<circle cx="147.10" cy="223.70" r="2.0" fill="#143f8c" stroke="none" stroke-width="0"/>
<circle cx="142.80" cy="228.40" r="2.0" fill="#143f8c" stroke="none" stroke-width="0"/>
<circle cx="151.80" cy="187.80" r="2.0" fill="#4aa22e" stroke="none" stroke-width="0"/>
<circle cx="152.80" cy="188.50" r="2.0" fill="#4aa22e" stroke="none" stroke-width="0"/>
<circle cx="149.20" cy="196.60" r="2.0" fill="#4aa22e" stroke="none" stroke-width="0"/>
<circle cx="152.80" cy="198.00" r="2.0" fill="#4aa22e" stroke="none" stroke-width="0"/>
<circle cx="155.70" cy="197.50" r="2.0" fill="#4aa22e" stroke="none" stroke-width="0"/>
<circle cx="152.80" cy="202.30" r="2.0" fill="#4aa22e" stroke="none" stroke-width="0"/>
<circle cx="152.10" cy="212.70" r="2.0" fill="#4aa22e" stroke="none" stroke-width="0"/>
<line x1="143.80" y1="210.30" x2="143.80" y2="239.10" stroke="#222" stroke-width="1.0"/>
<line x1="140.10" y1="217.30" x2="147.50" y2="217.30" stroke="#222" stroke-width="1.15"/>
<line x1="141.60" y1="210.30" x2="146.00" y2="210.30" stroke="#222" stroke-width="1.0"/>
<line x1="141.60" y1="239.10" x2="146.00" y2="239.10" stroke="#222" stroke-width="1.0"/>
<line x1="152.30" y1="191.80" x2="152.30" y2="204.20" stroke="#222" stroke-width="1.0"/>
<line x1="148.60" y1="194.50" x2="156.00" y2="194.50" stroke="#222" stroke-width="1.15"/>
<line x1="150.10" y1="191.80" x2="154.50" y2="191.80" stroke="#222" stroke-width="1.0"/>
<line x1="150.10" y1="204.20" x2="154.50" y2="204.20" stroke="#222" stroke-width="1.0"/>
<circle cx="168.00" cy="210.30" r="2.0" fill="#143f8c" stroke="none" stroke-width="0"/>
<circle cx="168.00" cy="217.70" r="2.0" fill="#143f8c" stroke="none" stroke-width="0"/>
<circle cx="167.00" cy="231.20" r="2.0" fill="#143f8c" stroke="none" stroke-width="0"/>
<circle cx="169.20" cy="231.20" r="2.0" fill="#143f8c" stroke="none" stroke-width="0"/>
<circle cx="168.00" cy="233.40" r="2.0" fill="#143f8c" stroke="none" stroke-width="0"/>
<circle cx="168.00" cy="235.00" r="2.0" fill="#143f8c" stroke="none" stroke-width="0"/>
<circle cx="179.40" cy="182.80" r="2.0" fill="#4aa22e" stroke="none" stroke-width="0"/>
<circle cx="174.60" cy="185.70" r="2.0" fill="#4aa22e" stroke="none" stroke-width="0"/>
<circle cx="173.20" cy="190.60" r="2.0" fill="#4aa22e" stroke="none" stroke-width="0"/>
<circle cx="178.40" cy="192.00" r="2.0" fill="#4aa22e" stroke="none" stroke-width="0"/>
<circle cx="176.30" cy="198.50" r="2.0" fill="#4aa22e" stroke="none" stroke-width="0"/>
<circle cx="173.20" cy="205.30" r="2.0" fill="#4aa22e" stroke="none" stroke-width="0"/>
<circle cx="178.40" cy="205.90" r="2.0" fill="#4aa22e" stroke="none" stroke-width="0"/>
<circle cx="176.30" cy="222.40" r="2.0" fill="#4aa22e" stroke="none" stroke-width="0"/>
<line x1="168.20" y1="215.10" x2="168.20" y2="223.40" stroke="#222" stroke-width="1.0"/>
<line x1="164.50" y1="223.40" x2="171.90" y2="223.40" stroke="#222" stroke-width="1.15"/>
<line x1="166.00" y1="215.10" x2="170.40" y2="215.10" stroke="#222" stroke-width="1.0"/>
<line x1="176.30" y1="186.40" x2="176.30" y2="212.30" stroke="#222" stroke-width="1.0"/>
<line x1="172.60" y1="193.20" x2="180.00" y2="193.20" stroke="#222" stroke-width="1.15"/>
<line x1="174.10" y1="186.40" x2="178.50" y2="186.40" stroke="#222" stroke-width="1.0"/>
<line x1="174.10" y1="212.30" x2="178.50" y2="212.30" stroke="#222" stroke-width="1.0"/>
<circle cx="192.00" cy="201.30" r="2.0" fill="#143f8c" stroke="none" stroke-width="0"/>
<circle cx="192.00" cy="214.40" r="2.0" fill="#143f8c" stroke="none" stroke-width="0"/>
<circle cx="192.00" cy="221.90" r="2.0" fill="#143f8c" stroke="none" stroke-width="0"/>
<circle cx="189.20" cy="235.00" r="2.0" fill="#143f8c" stroke="none" stroke-width="0"/>
<circle cx="191.50" cy="238.00" r="2.0" fill="#143f8c" stroke="none" stroke-width="0"/>
<circle cx="195.00" cy="233.50" r="2.0" fill="#143f8c" stroke="none" stroke-width="0"/>
<circle cx="193.00" cy="235.80" r="2.0" fill="#143f8c" stroke="none" stroke-width="0"/>
<circle cx="200.60" cy="178.90" r="2.0" fill="#4aa22e" stroke="none" stroke-width="0"/>
<circle cx="197.80" cy="185.20" r="2.0" fill="#4aa22e" stroke="none" stroke-width="0"/>
<circle cx="202.50" cy="187.00" r="2.0" fill="#4aa22e" stroke="none" stroke-width="0"/>
<circle cx="203.80" cy="192.00" r="2.0" fill="#4aa22e" stroke="none" stroke-width="0"/>
<circle cx="198.80" cy="197.00" r="2.0" fill="#4aa22e" stroke="none" stroke-width="0"/>
<circle cx="197.80" cy="206.30" r="2.0" fill="#4aa22e" stroke="none" stroke-width="0"/>
<circle cx="202.50" cy="208.80" r="2.0" fill="#4aa22e" stroke="none" stroke-width="0"/>
<circle cx="200.60" cy="220.50" r="2.0" fill="#4aa22e" stroke="none" stroke-width="0"/>
<line x1="192.40" y1="207.40" x2="192.40" y2="217.60" stroke="#222" stroke-width="1.0"/>
<line x1="188.70" y1="217.60" x2="196.10" y2="217.60" stroke="#222" stroke-width="1.15"/>
<line x1="190.20" y1="207.40" x2="194.60" y2="207.40" stroke="#222" stroke-width="1.0"/>
<line x1="200.60" y1="183.50" x2="200.60" y2="222.00" stroke="#222" stroke-width="1.0"/>
<line x1="196.90" y1="191.00" x2="204.30" y2="191.00" stroke="#222" stroke-width="1.15"/>
<line x1="198.40" y1="183.50" x2="202.80" y2="183.50" stroke="#222" stroke-width="1.0"/>
<line x1="198.40" y1="222.00" x2="202.80" y2="222.00" stroke="#222" stroke-width="1.0"/>
<line x1="95.80" y1="171.30" x2="105.80" y2="171.30" stroke="#1a1a1a" stroke-width="1.15"/>
<line x1="95.80" y1="169.50" x2="95.80" y2="173.10" stroke="#1a1a1a" stroke-width="1.0"/>
<line x1="105.80" y1="169.50" x2="105.80" y2="173.10" stroke="#1a1a1a" stroke-width="1.0"/>
<circle cx="97.30" cy="167.20" r="1.0" fill="#111" stroke="none" stroke-width="0"/>
<circle cx="100.80" cy="167.20" r="1.0" fill="#111" stroke="none" stroke-width="0"/>
<circle cx="104.30" cy="167.20" r="1.0" fill="#111" stroke="none" stroke-width="0"/>
<line x1="117.70" y1="171.30" x2="127.70" y2="171.30" stroke="#1a1a1a" stroke-width="1.15"/>
<line x1="117.70" y1="169.50" x2="117.70" y2="173.10" stroke="#1a1a1a" stroke-width="1.0"/>
<line x1="127.70" y1="169.50" x2="127.70" y2="173.10" stroke="#1a1a1a" stroke-width="1.0"/>
<circle cx="120.95" cy="167.20" r="1.0" fill="#111" stroke="none" stroke-width="0"/>
<circle cx="124.45" cy="167.20" r="1.0" fill="#111" stroke="none" stroke-width="0"/>
<line x1="142.40" y1="171.30" x2="152.40" y2="171.30" stroke="#1a1a1a" stroke-width="1.15"/>
<line x1="142.40" y1="169.50" x2="142.40" y2="173.10" stroke="#1a1a1a" stroke-width="1.0"/>
<line x1="152.40" y1="169.50" x2="152.40" y2="173.10" stroke="#1a1a1a" stroke-width="1.0"/>
<circle cx="143.90" cy="167.20" r="1.0" fill="#111" stroke="none" stroke-width="0"/>
<circle cx="147.40" cy="167.20" r="1.0" fill="#111" stroke="none" stroke-width="0"/>
<circle cx="150.90" cy="167.20" r="1.0" fill="#111" stroke="none" stroke-width="0"/>
<line x1="167.50" y1="171.30" x2="177.50" y2="171.30" stroke="#1a1a1a" stroke-width="1.15"/>
<line x1="167.50" y1="169.50" x2="167.50" y2="173.10" stroke="#1a1a1a" stroke-width="1.0"/>
<line x1="177.50" y1="169.50" x2="177.50" y2="173.10" stroke="#1a1a1a" stroke-width="1.0"/>
<circle cx="170.75" cy="167.20" r="1.0" fill="#111" stroke="none" stroke-width="0"/>
<circle cx="174.25" cy="167.20" r="1.0" fill="#111" stroke="none" stroke-width="0"/>
<line x1="190.40" y1="171.30" x2="200.30" y2="171.30" stroke="#1a1a1a" stroke-width="1.15"/>
<line x1="190.40" y1="169.50" x2="190.40" y2="173.10" stroke="#1a1a1a" stroke-width="1.0"/>
<line x1="200.30" y1="169.50" x2="200.30" y2="173.10" stroke="#1a1a1a" stroke-width="1.0"/>
<circle cx="193.60" cy="167.20" r="1.0" fill="#111" stroke="none" stroke-width="0"/>
<circle cx="197.10" cy="167.20" r="1.0" fill="#111" stroke="none" stroke-width="0"/>
<text x="273.50" y="159.50" font-size="11.4" text-anchor="start" font-weight="bold" fill="#000" stroke="#000" stroke-width="0.45">C</text>
<text x="356.70" y="157.80" font-size="8.0" text-anchor="start" textLength="24.80" lengthAdjust="spacingAndGlyphs" fill="#1c1c1c" stroke="#1c1c1c" stroke-width="0.18">MOI 25</text>
<line x1="314.30" y1="170.60" x2="314.30" y2="254.30" stroke="#1a1a1a" stroke-width="1.4"/>
<line x1="313.60" y1="253.60" x2="435.80" y2="253.60" stroke="#1a1a1a" stroke-width="1.4"/>
<line x1="311.50" y1="172.80" x2="314.30" y2="172.80" stroke="#1a1a1a" stroke-width="1.0"/>
<text x="297.79" y="174.80" font-size="7.2" text-anchor="start" textLength="10.81" lengthAdjust="spacingAndGlyphs" fill="#1c1c1c" stroke="#1c1c1c" stroke-width="0.18">100</text>
<line x1="311.50" y1="199.60" x2="314.30" y2="199.60" stroke="#1a1a1a" stroke-width="1.0"/>
<text x="301.39" y="201.60" font-size="7.2" text-anchor="start" textLength="7.21" lengthAdjust="spacingAndGlyphs" fill="#1c1c1c" stroke="#1c1c1c" stroke-width="0.18">10</text>
<line x1="311.50" y1="226.40" x2="314.30" y2="226.40" stroke="#1a1a1a" stroke-width="1.0"/>
<text x="305.00" y="228.40" font-size="7.2" text-anchor="start" textLength="3.60" lengthAdjust="spacingAndGlyphs" fill="#1c1c1c" stroke="#1c1c1c" stroke-width="0.18">1</text>
<line x1="311.50" y1="253.20" x2="314.30" y2="253.20" stroke="#1a1a1a" stroke-width="1.0"/>
<text x="299.59" y="255.20" font-size="7.2" text-anchor="start" textLength="9.01" lengthAdjust="spacingAndGlyphs" fill="#1c1c1c" stroke="#1c1c1c" stroke-width="0.18">0.1</text>
<line x1="312.40" y1="191.53" x2="314.30" y2="191.53" stroke="#1a1a1a" stroke-width="0.8"/>
<line x1="312.40" y1="186.81" x2="314.30" y2="186.81" stroke="#1a1a1a" stroke-width="0.8"/>
<line x1="312.40" y1="183.46" x2="314.30" y2="183.46" stroke="#1a1a1a" stroke-width="0.8"/>
<line x1="312.40" y1="180.87" x2="314.30" y2="180.87" stroke="#1a1a1a" stroke-width="0.8"/>
<line x1="312.40" y1="178.75" x2="314.30" y2="178.75" stroke="#1a1a1a" stroke-width="0.8"/>
<line x1="312.40" y1="176.95" x2="314.30" y2="176.95" stroke="#1a1a1a" stroke-width="0.8"/>
<line x1="312.40" y1="175.40" x2="314.30" y2="175.40" stroke="#1a1a1a" stroke-width="0.8"/>
<line x1="312.40" y1="174.03" x2="314.30" y2="174.03" stroke="#1a1a1a" stroke-width="0.8"/>
<line x1="312.40" y1="218.33" x2="314.30" y2="218.33" stroke="#1a1a1a" stroke-width="0.8"/>
<line x1="312.40" y1="213.61" x2="314.30" y2="213.61" stroke="#1a1a1a" stroke-width="0.8"/>
<line x1="312.40" y1="210.26" x2="314.30" y2="210.26" stroke="#1a1a1a" stroke-width="0.8"/>
<line x1="312.40" y1="207.67" x2="314.30" y2="207.67" stroke="#1a1a1a" stroke-width="0.8"/>
<line x1="312.40" y1="205.55" x2="314.30" y2="205.55" stroke="#1a1a1a" stroke-width="0.8"/>
<line x1="312.40" y1="203.75" x2="314.30" y2="203.75" stroke="#1a1a1a" stroke-width="0.8"/>
<line x1="312.40" y1="202.20" x2="314.30" y2="202.20" stroke="#1a1a1a" stroke-width="0.8"/>
<line x1="312.40" y1="200.83" x2="314.30" y2="200.83" stroke="#1a1a1a" stroke-width="0.8"/>
<line x1="312.40" y1="245.13" x2="314.30" y2="245.13" stroke="#1a1a1a" stroke-width="0.8"/>
<line x1="312.40" y1="240.41" x2="314.30" y2="240.41" stroke="#1a1a1a" stroke-width="0.8"/>
<line x1="312.40" y1="237.06" x2="314.30" y2="237.06" stroke="#1a1a1a" stroke-width="0.8"/>
<line x1="312.40" y1="234.47" x2="314.30" y2="234.47" stroke="#1a1a1a" stroke-width="0.8"/>
<line x1="312.40" y1="232.35" x2="314.30" y2="232.35" stroke="#1a1a1a" stroke-width="0.8"/>
<line x1="312.40" y1="230.55" x2="314.30" y2="230.55" stroke="#1a1a1a" stroke-width="0.8"/>
<line x1="312.40" y1="229.00" x2="314.30" y2="229.00" stroke="#1a1a1a" stroke-width="0.8"/>
<line x1="312.40" y1="227.63" x2="314.30" y2="227.63" stroke="#1a1a1a" stroke-width="0.8"/>
<text transform="translate(292.90,250.40) rotate(-90)" x="0" y="0" font-size="9.4" textLength="76.40" lengthAdjust="spacingAndGlyphs" fill="#1c1c1c" stroke="#1c1c1c" stroke-width="0.2">%human(CD45+) EGFP+</text>
<line x1="326.30" y1="253.60" x2="326.30" y2="256.90" stroke="#1a1a1a" stroke-width="1.0"/>
<text x="326.30" y="265.20" font-size="7.6" text-anchor="middle" textLength="3.47" lengthAdjust="spacingAndGlyphs" fill="#1c1c1c" stroke="#1c1c1c" stroke-width="0.18">6</text>
<line x1="350.40" y1="253.60" x2="350.40" y2="256.90" stroke="#1a1a1a" stroke-width="1.0"/>
<text x="350.40" y="265.20" font-size="7.6" text-anchor="middle" textLength="6.47" lengthAdjust="spacingAndGlyphs" fill="#1c1c1c" stroke="#1c1c1c" stroke-width="0.18">11</text>
<line x1="374.80" y1="253.60" x2="374.80" y2="256.90" stroke="#1a1a1a" stroke-width="1.0"/>
<text x="374.80" y="265.20" font-size="7.6" text-anchor="middle" textLength="6.93" lengthAdjust="spacingAndGlyphs" fill="#1c1c1c" stroke="#1c1c1c" stroke-width="0.18">15</text>
<line x1="399.00" y1="253.60" x2="399.00" y2="256.90" stroke="#1a1a1a" stroke-width="1.0"/>
<text x="399.00" y="265.20" font-size="7.6" text-anchor="middle" textLength="6.93" lengthAdjust="spacingAndGlyphs" fill="#1c1c1c" stroke="#1c1c1c" stroke-width="0.18">20</text>
<line x1="423.80" y1="253.60" x2="423.80" y2="256.90" stroke="#1a1a1a" stroke-width="1.0"/>
<text x="412.40" y="265.20" font-size="7.4" text-anchor="start" textLength="23.70" lengthAdjust="spacingAndGlyphs" fill="#1c1c1c" stroke="#1c1c1c" stroke-width="0.18">Terminal</text>
<text x="337.70" y="277.20" font-size="9.3" text-anchor="start" textLength="74.20" lengthAdjust="spacingAndGlyphs" fill="#1c1c1c" stroke="#1c1c1c" stroke-width="0.18">Weeks post-engraftment</text>
<circle cx="323.00" cy="191.50" r="1.9499999999999997" fill="none" stroke="#143f8c" stroke-width="0.8"/>
<circle cx="320.80" cy="196.00" r="1.9499999999999997" fill="none" stroke="#143f8c" stroke-width="0.8"/>
<circle cx="322.30" cy="197.70" r="1.9499999999999997" fill="none" stroke="#143f8c" stroke-width="0.8"/>
<circle cx="321.50" cy="200.00" r="1.9499999999999997" fill="none" stroke="#143f8c" stroke-width="0.8"/>
<circle cx="323.00" cy="200.80" r="1.9499999999999997" fill="none" stroke="#143f8c" stroke-width="0.8"/>
<circle cx="322.30" cy="203.00" r="1.9499999999999997" fill="none" stroke="#143f8c" stroke-width="0.8"/>
<circle cx="333.80" cy="178.80" r="1.9499999999999997" fill="none" stroke="#4aa22e" stroke-width="0.8"/>
<circle cx="328.50" cy="182.30" r="1.9499999999999997" fill="none" stroke="#4aa22e" stroke-width="0.8"/>
<circle cx="331.50" cy="185.40" r="1.9499999999999997" fill="none" stroke="#4aa22e" stroke-width="0.8"/>
<circle cx="330.30" cy="189.20" r="1.9499999999999997" fill="none" stroke="#4aa22e" stroke-width="0.8"/>
<circle cx="329.20" cy="192.30" r="1.9499999999999997" fill="none" stroke="#4aa22e" stroke-width="0.8"/>
<circle cx="331.50" cy="194.60" r="1.9499999999999997" fill="none" stroke="#4aa22e" stroke-width="0.8"/>
<circle cx="330.80" cy="198.20" r="1.9499999999999997" fill="none" stroke="#4aa22e" stroke-width="0.8"/>
<line x1="322.20" y1="194.00" x2="322.20" y2="200.80" stroke="#222" stroke-width="0.85"/>
<line x1="318.80" y1="197.20" x2="325.60" y2="197.20" stroke="#222" stroke-width="0.9774999999999999"/>
<line x1="320.20" y1="194.00" x2="324.20" y2="194.00" stroke="#222" stroke-width="0.85"/>
<line x1="320.20" y1="200.80" x2="324.20" y2="200.80" stroke="#222" stroke-width="0.85"/>
<line x1="331.00" y1="181.80" x2="331.00" y2="192.60" stroke="#222" stroke-width="0.85"/>
<line x1="327.60" y1="187.00" x2="334.40" y2="187.00" stroke="#222" stroke-width="0.9774999999999999"/>
<line x1="329.00" y1="181.80" x2="333.00" y2="181.80" stroke="#222" stroke-width="0.85"/>
<line x1="329.00" y1="192.60" x2="333.00" y2="192.60" stroke="#222" stroke-width="0.85"/>
<circle cx="347.00" cy="189.50" r="1.9499999999999997" fill="none" stroke="#143f8c" stroke-width="0.8"/>
<circle cx="345.40" cy="191.50" r="1.9499999999999997" fill="none" stroke="#143f8c" stroke-width="0.8"/>
<circle cx="348.20" cy="193.00" r="1.9499999999999997" fill="none" stroke="#143f8c" stroke-width="0.8"/>
<circle cx="345.60" cy="198.50" r="1.9499999999999997" fill="none" stroke="#143f8c" stroke-width="0.8"/>
<circle cx="347.50" cy="199.40" r="1.9499999999999997" fill="none" stroke="#143f8c" stroke-width="0.8"/>
<circle cx="346.50" cy="206.20" r="1.9499999999999997" fill="none" stroke="#143f8c" stroke-width="0.8"/>
<circle cx="346.60" cy="214.20" r="1.9499999999999997" fill="none" stroke="#143f8c" stroke-width="0.8"/>
<circle cx="355.00" cy="176.50" r="1.9499999999999997" fill="none" stroke="#4aa22e" stroke-width="0.8"/>
<circle cx="352.30" cy="183.80" r="1.9499999999999997" fill="none" stroke="#4aa22e" stroke-width="0.8"/>
<circle cx="357.70" cy="184.20" r="1.9499999999999997" fill="none" stroke="#4aa22e" stroke-width="0.8"/>
<circle cx="355.40" cy="186.20" r="1.9499999999999997" fill="none" stroke="#4aa22e" stroke-width="0.8"/>
<circle cx="358.50" cy="191.50" r="1.9499999999999997" fill="none" stroke="#4aa22e" stroke-width="0.8"/>
<circle cx="353.00" cy="197.20" r="1.9499999999999997" fill="none" stroke="#4aa22e" stroke-width="0.8"/>
<line x1="346.60" y1="192.30" x2="346.60" y2="206.00" stroke="#222" stroke-width="0.85"/>
<line x1="343.20" y1="197.20" x2="350.00" y2="197.20" stroke="#222" stroke-width="0.9774999999999999"/>
<line x1="344.60" y1="192.30" x2="348.60" y2="192.30" stroke="#222" stroke-width="0.85"/>
<line x1="344.60" y1="206.00" x2="348.60" y2="206.00" stroke="#222" stroke-width="0.85"/>
<line x1="355.30" y1="180.80" x2="355.30" y2="193.00" stroke="#222" stroke-width="0.85"/>
<line x1="351.90" y1="185.40" x2="358.70" y2="185.40" stroke="#222" stroke-width="0.9774999999999999"/>
<line x1="353.30" y1="180.80" x2="357.30" y2="180.80" stroke="#222" stroke-width="0.85"/>
<line x1="353.30" y1="193.00" x2="357.30" y2="193.00" stroke="#222" stroke-width="0.85"/>
<circle cx="367.70" cy="184.00" r="1.9499999999999997" fill="none" stroke="#143f8c" stroke-width="0.8"/>
<circle cx="372.50" cy="185.00" r="1.9499999999999997" fill="none" stroke="#143f8c" stroke-width="0.8"/>
<circle cx="371.20" cy="194.60" r="1.9499999999999997" fill="none" stroke="#143f8c" stroke-width="0.8"/>
<circle cx="367.70" cy="198.50" r="1.9499999999999997" fill="none" stroke="#143f8c" stroke-width="0.8"/>
<circle cx="373.00" cy="203.80" r="1.9499999999999997" fill="none" stroke="#143f8c" stroke-width="0.8"/>
<circle cx="371.20" cy="210.40" r="1.9499999999999997" fill="none" stroke="#143f8c" stroke-width="0.8"/>
<circle cx="371.20" cy="216.20" r="1.9499999999999997" fill="none" stroke="#143f8c" stroke-width="0.8"/>
<circle cx="371.20" cy="232.10" r="1.9499999999999997" fill="none" stroke="#143f8c" stroke-width="0.8"/>
<circle cx="376.30" cy="178.70" r="1.9499999999999997" fill="none" stroke="#4aa22e" stroke-width="0.8"/>
<circle cx="381.50" cy="182.10" r="1.9499999999999997" fill="none" stroke="#4aa22e" stroke-width="0.8"/>
<circle cx="379.20" cy="185.00" r="1.9499999999999997" fill="none" stroke="#4aa22e" stroke-width="0.8"/>
<circle cx="376.30" cy="189.20" r="1.9499999999999997" fill="none" stroke="#4aa22e" stroke-width="0.8"/>
<circle cx="379.60" cy="189.80" r="1.9499999999999997" fill="none" stroke="#4aa22e" stroke-width="0.8"/>
<circle cx="382.70" cy="188.50" r="1.9499999999999997" fill="none" stroke="#4aa22e" stroke-width="0.8"/>
<line x1="371.00" y1="187.00" x2="371.00" y2="195.60" stroke="#222" stroke-width="0.85"/>
<line x1="367.60" y1="195.60" x2="374.40" y2="195.60" stroke="#222" stroke-width="0.9774999999999999"/>
<line x1="369.00" y1="187.00" x2="373.00" y2="187.00" stroke="#222" stroke-width="0.85"/>
<line x1="379.40" y1="182.00" x2="379.40" y2="190.80" stroke="#222" stroke-width="0.85"/>
<line x1="376.00" y1="186.00" x2="382.80" y2="186.00" stroke="#222" stroke-width="0.9774999999999999"/>
<line x1="377.40" y1="182.00" x2="381.40" y2="182.00" stroke="#222" stroke-width="0.85"/>
<line x1="377.40" y1="190.80" x2="381.40" y2="190.80" stroke="#222" stroke-width="0.85"/>
<circle cx="395.20" cy="178.70" r="1.9499999999999997" fill="none" stroke="#143f8c" stroke-width="0.8"/>
<circle cx="395.20" cy="189.80" r="1.9499999999999997" fill="none" stroke="#143f8c" stroke-width="0.8"/>
<circle cx="395.60" cy="196.50" r="1.9499999999999997" fill="none" stroke="#143f8c" stroke-width="0.8"/>
<circle cx="396.50" cy="200.40" r="1.9499999999999997" fill="none" stroke="#143f8c" stroke-width="0.8"/>
<circle cx="394.60" cy="202.70" r="1.9499999999999997" fill="none" stroke="#143f8c" stroke-width="0.8"/>
<circle cx="395.60" cy="203.80" r="1.9499999999999997" fill="none" stroke="#143f8c" stroke-width="0.8"/>
<circle cx="393.40" cy="219.30" r="1.9499999999999997" fill="none" stroke="#143f8c" stroke-width="0.8"/>
<circle cx="398.60" cy="217.30" r="1.9499999999999997" fill="none" stroke="#143f8c" stroke-width="0.8"/>
<circle cx="403.70" cy="177.00" r="1.9499999999999997" fill="none" stroke="#4aa22e" stroke-width="0.8"/>
<circle cx="400.80" cy="182.10" r="1.9499999999999997" fill="none" stroke="#4aa22e" stroke-width="0.8"/>
<circle cx="407.10" cy="183.00" r="1.9499999999999997" fill="none" stroke="#4aa22e" stroke-width="0.8"/>
<circle cx="404.20" cy="186.00" r="1.9499999999999997" fill="none" stroke="#4aa22e" stroke-width="0.8"/>
<circle cx="402.30" cy="194.60" r="1.9499999999999997" fill="none" stroke="#4aa22e" stroke-width="0.8"/>
<circle cx="405.20" cy="195.60" r="1.9499999999999997" fill="none" stroke="#4aa22e" stroke-width="0.8"/>
<circle cx="403.70" cy="199.40" r="1.9499999999999997" fill="none" stroke="#4aa22e" stroke-width="0.8"/>
<line x1="395.40" y1="185.00" x2="395.40" y2="194.60" stroke="#222" stroke-width="0.85"/>
<line x1="392.00" y1="194.60" x2="398.80" y2="194.60" stroke="#222" stroke-width="0.9774999999999999"/>
<line x1="393.40" y1="185.00" x2="397.40" y2="185.00" stroke="#222" stroke-width="0.85"/>
<line x1="404.00" y1="180.20" x2="404.00" y2="194.60" stroke="#222" stroke-width="0.85"/>
<line x1="400.60" y1="185.00" x2="407.40" y2="185.00" stroke="#222" stroke-width="0.9774999999999999"/>
<line x1="402.00" y1="180.20" x2="406.00" y2="180.20" stroke="#222" stroke-width="0.85"/>
<line x1="402.00" y1="194.60" x2="406.00" y2="194.60" stroke="#222" stroke-width="0.85"/>
<circle cx="419.50" cy="179.00" r="1.9499999999999997" fill="none" stroke="#143f8c" stroke-width="0.8"/>
<circle cx="419.50" cy="186.60" r="1.9499999999999997" fill="none" stroke="#143f8c" stroke-width="0.8"/>
<circle cx="416.60" cy="195.70" r="1.9499999999999997" fill="none" stroke="#143f8c" stroke-width="0.8"/>
<circle cx="422.00" cy="198.40" r="1.9499999999999997" fill="none" stroke="#143f8c" stroke-width="0.8"/>
<circle cx="419.50" cy="209.80" r="1.9499999999999997" fill="none" stroke="#143f8c" stroke-width="0.8"/>
<circle cx="419.50" cy="216.50" r="1.9499999999999997" fill="none" stroke="#143f8c" stroke-width="0.8"/>
<circle cx="422.70" cy="224.60" r="1.9499999999999997" fill="none" stroke="#143f8c" stroke-width="0.8"/>
<circle cx="417.60" cy="227.00" r="1.9499999999999997" fill="none" stroke="#143f8c" stroke-width="0.8"/>
<circle cx="428.00" cy="177.10" r="1.9499999999999997" fill="none" stroke="#4aa22e" stroke-width="0.8"/>
<circle cx="431.40" cy="180.00" r="1.9499999999999997" fill="none" stroke="#4aa22e" stroke-width="0.8"/>
<circle cx="425.20" cy="183.20" r="1.9499999999999997" fill="none" stroke="#4aa22e" stroke-width="0.8"/>
<circle cx="428.00" cy="185.70" r="1.9499999999999997" fill="none" stroke="#4aa22e" stroke-width="0.8"/>
<circle cx="425.70" cy="187.60" r="1.9499999999999997" fill="none" stroke="#4aa22e" stroke-width="0.8"/>
<circle cx="430.30" cy="192.70" r="1.9499999999999997" fill="none" stroke="#4aa22e" stroke-width="0.8"/>
<circle cx="428.00" cy="202.20" r="1.9499999999999997" fill="none" stroke="#4aa22e" stroke-width="0.8"/>
<line x1="419.50" y1="185.70" x2="419.50" y2="194.60" stroke="#222" stroke-width="0.85"/>
<line x1="416.10" y1="194.60" x2="422.90" y2="194.60" stroke="#222" stroke-width="0.9774999999999999"/>
<line x1="417.50" y1="185.70" x2="421.50" y2="185.70" stroke="#222" stroke-width="0.85"/>
<line x1="428.20" y1="179.40" x2="428.20" y2="194.20" stroke="#222" stroke-width="0.85"/>
<line x1="424.80" y1="184.70" x2="431.60" y2="184.70" stroke="#222" stroke-width="0.9774999999999999"/>
<line x1="426.20" y1="179.40" x2="430.20" y2="179.40" stroke="#222" stroke-width="0.85"/>
<line x1="426.20" y1="194.20" x2="430.20" y2="194.20" stroke="#222" stroke-width="0.85"/>
<line x1="320.50" y1="171.30" x2="330.80" y2="171.30" stroke="#1a1a1a" stroke-width="1.15"/>
<line x1="320.50" y1="169.50" x2="320.50" y2="173.10" stroke="#1a1a1a" stroke-width="1.0"/>
<line x1="330.80" y1="169.50" x2="330.80" y2="173.10" stroke="#1a1a1a" stroke-width="1.0"/>
<circle cx="323.90" cy="167.20" r="1.0" fill="#111" stroke="none" stroke-width="0"/>
<circle cx="327.40" cy="167.20" r="1.0" fill="#111" stroke="none" stroke-width="0"/>
<line x1="346.20" y1="171.30" x2="356.20" y2="171.30" stroke="#1a1a1a" stroke-width="1.15"/>
<line x1="346.20" y1="169.50" x2="346.20" y2="173.10" stroke="#1a1a1a" stroke-width="1.0"/>
<line x1="356.20" y1="169.50" x2="356.20" y2="173.10" stroke="#1a1a1a" stroke-width="1.0"/>
<circle cx="349.45" cy="167.20" r="1.0" fill="#111" stroke="none" stroke-width="0"/>
<circle cx="352.95" cy="167.20" r="1.0" fill="#111" stroke="none" stroke-width="0"/>
<line x1="369.60" y1="171.30" x2="379.20" y2="171.30" stroke="#1a1a1a" stroke-width="1.15"/>
<line x1="369.60" y1="169.50" x2="369.60" y2="173.10" stroke="#1a1a1a" stroke-width="1.0"/>
<line x1="379.20" y1="169.50" x2="379.20" y2="173.10" stroke="#1a1a1a" stroke-width="1.0"/>
<circle cx="374.40" cy="167.20" r="1.0" fill="#111" stroke="none" stroke-width="0"/>
<line x1="394.20" y1="171.30" x2="404.20" y2="171.30" stroke="#1a1a1a" stroke-width="1.15"/>
<line x1="394.20" y1="169.50" x2="394.20" y2="173.10" stroke="#1a1a1a" stroke-width="1.0"/>
<line x1="404.20" y1="169.50" x2="404.20" y2="173.10" stroke="#1a1a1a" stroke-width="1.0"/>
<circle cx="399.20" cy="167.20" r="1.0" fill="#111" stroke="none" stroke-width="0"/>
<line x1="418.50" y1="171.30" x2="428.00" y2="171.30" stroke="#1a1a1a" stroke-width="1.15"/>
<line x1="418.50" y1="169.50" x2="418.50" y2="173.10" stroke="#1a1a1a" stroke-width="1.0"/>
<line x1="428.00" y1="169.50" x2="428.00" y2="173.10" stroke="#1a1a1a" stroke-width="1.0"/>
<circle cx="423.25" cy="167.20" r="1.0" fill="#111" stroke="none" stroke-width="0"/>
<circle cx="214.00" cy="279.10" r="1.9" fill="#143f8c" stroke="none" stroke-width="0"/>
<text x="220.00" y="281.00" font-size="5.4" text-anchor="start" textLength="55.20" lengthAdjust="spacingAndGlyphs" fill="#1c1c1c">DMSO (0.06%) MOI 10</text>
<circle cx="214.00" cy="290.30" r="1.9" fill="#4aa22e" stroke="none" stroke-width="0"/>
<text x="220.00" y="292.20" font-size="5.4" text-anchor="start" textLength="71.00" lengthAdjust="spacingAndGlyphs" fill="#1c1c1c">Caraphenol A (30μM) MOI 10</text>
<circle cx="214.00" cy="301.20" r="1.75" fill="none" stroke="#143f8c" stroke-width="0.8"/>
<text x="220.00" y="303.10" font-size="5.4" text-anchor="start" textLength="55.20" lengthAdjust="spacingAndGlyphs" fill="#1c1c1c">DMSO (0.06%) MOI 25</text>
<circle cx="214.00" cy="312.40" r="1.75" fill="none" stroke="#4aa22e" stroke-width="0.8"/>
<text x="220.00" y="314.30" font-size="5.4" text-anchor="start" textLength="71.00" lengthAdjust="spacingAndGlyphs" fill="#1c1c1c">Caraphenol A (30μM) MOI 25</text>
<text x="45.90" y="339.80" font-size="11.4" text-anchor="start" font-weight="bold" fill="#000" stroke="#000" stroke-width="0.45">D</text>
<text x="134.40" y="347.50" font-size="10.4" text-anchor="start" textLength="29.70" lengthAdjust="spacingAndGlyphs" fill="#1c1c1c" stroke="#1c1c1c" stroke-width="0.22">Spleen</text>
<line x1="87.90" y1="356.40" x2="87.90" y2="440.70" stroke="#1a1a1a" stroke-width="1.4"/>
<line x1="87.20" y1="440.00" x2="210.00" y2="440.00" stroke="#1a1a1a" stroke-width="1.4"/>
<line x1="84.50" y1="440.00" x2="87.90" y2="440.00" stroke="#1a1a1a" stroke-width="1.0"/>
<text x="77.10" y="443.10" font-size="9.0" text-anchor="start" textLength="4.10" lengthAdjust="spacingAndGlyphs" fill="#1c1c1c" stroke="#1c1c1c" stroke-width="0.18">0</text>
<line x1="84.50" y1="423.84" x2="87.90" y2="423.84" stroke="#1a1a1a" stroke-width="1.0"/>
<text x="72.99" y="426.94" font-size="9.0" text-anchor="start" textLength="8.21" lengthAdjust="spacingAndGlyphs" fill="#1c1c1c" stroke="#1c1c1c" stroke-width="0.18">20</text>
<line x1="84.50" y1="407.68" x2="87.90" y2="407.68" stroke="#1a1a1a" stroke-width="1.0"/>
<text x="72.99" y="410.78" font-size="9.0" text-anchor="start" textLength="8.21" lengthAdjust="spacingAndGlyphs" fill="#1c1c1c" stroke="#1c1c1c" stroke-width="0.18">40</text>
<line x1="84.50" y1="391.52" x2="87.90" y2="391.52" stroke="#1a1a1a" stroke-width="1.0"/>
<text x="72.99" y="394.62" font-size="9.0" text-anchor="start" textLength="8.21" lengthAdjust="spacingAndGlyphs" fill="#1c1c1c" stroke="#1c1c1c" stroke-width="0.18">60</text>
<line x1="84.50" y1="375.36" x2="87.90" y2="375.36" stroke="#1a1a1a" stroke-width="1.0"/>
<text x="72.99" y="378.46" font-size="9.0" text-anchor="start" textLength="8.21" lengthAdjust="spacingAndGlyphs" fill="#1c1c1c" stroke="#1c1c1c" stroke-width="0.18">80</text>
<line x1="84.50" y1="359.20" x2="87.90" y2="359.20" stroke="#1a1a1a" stroke-width="1.0"/>
<text x="68.89" y="362.30" font-size="9.0" text-anchor="start" textLength="12.31" lengthAdjust="spacingAndGlyphs" fill="#1c1c1c" stroke="#1c1c1c" stroke-width="0.18">100</text>
<text transform="translate(63.00,442.00) rotate(-90)" x="0" y="0" font-size="10.6" textLength="87.10" lengthAdjust="spacingAndGlyphs" fill="#1c1c1c" stroke="#1c1c1c" stroke-width="0.2">%human (CD45+) EGFP+</text>
<line x1="100.40" y1="440.00" x2="100.40" y2="443.20" stroke="#1a1a1a" stroke-width="1.0"/>
<line x1="129.60" y1="440.00" x2="129.60" y2="443.20" stroke="#1a1a1a" stroke-width="1.0"/>
<line x1="168.50" y1="440.00" x2="168.50" y2="443.20" stroke="#1a1a1a" stroke-width="1.0"/>
<line x1="197.70" y1="440.00" x2="197.70" y2="443.20" stroke="#1a1a1a" stroke-width="1.0"/>
<text x="87.90" y="452.90" font-size="9.6" text-anchor="start" textLength="24.10" lengthAdjust="spacingAndGlyphs" fill="#1c1c1c" stroke="#1c1c1c" stroke-width="0.22">DMSO</text>
<text x="121.50" y="452.90" font-size="9.6" text-anchor="start" textLength="16.40" lengthAdjust="spacingAndGlyphs" fill="#1c1c1c" stroke="#1c1c1c" stroke-width="0.22">Cara</text>
<text x="156.60" y="452.90" font-size="9.6" text-anchor="start" textLength="24.30" lengthAdjust="spacingAndGlyphs" fill="#1c1c1c" stroke="#1c1c1c" stroke-width="0.22">DMSO</text>
<text x="189.40" y="452.90" font-size="9.6" text-anchor="start" textLength="16.60" lengthAdjust="spacingAndGlyphs" fill="#1c1c1c" stroke="#1c1c1c" stroke-width="0.22">Cara</text>
<line x1="88.80" y1="457.90" x2="137.30" y2="457.90" stroke="#2a2a2a" stroke-width="1.5"/>
<line x1="157.10" y1="457.90" x2="205.60" y2="457.90" stroke="#2a2a2a" stroke-width="1.5"/>
<text x="100.00" y="467.40" font-size="9.6" text-anchor="start" textLength="27.30" lengthAdjust="spacingAndGlyphs" fill="#1c1c1c" stroke="#1c1c1c" stroke-width="0.22">MOI 10</text>
<text x="168.00" y="467.40" font-size="9.6" text-anchor="start" textLength="27.10" lengthAdjust="spacingAndGlyphs" fill="#1c1c1c" stroke="#1c1c1c" stroke-width="0.22">MOI 25</text>
<circle cx="96.50" cy="437.80" r="1.9" fill="#143f8c" stroke="none" stroke-width="0"/>
<circle cx="98.50" cy="438.60" r="1.9" fill="#143f8c" stroke="none" stroke-width="0"/>
<circle cx="100.40" cy="439.50" r="1.9" fill="#143f8c" stroke="none" stroke-width="0"/>
<circle cx="102.30" cy="438.60" r="1.9" fill="#143f8c" stroke="none" stroke-width="0"/>
<circle cx="104.30" cy="437.80" r="1.9" fill="#143f8c" stroke="none" stroke-width="0"/>
<circle cx="100.40" cy="438.20" r="1.9" fill="#143f8c" stroke="none" stroke-width="0"/>
<circle cx="99.40" cy="439.00" r="1.9" fill="#143f8c" stroke="none" stroke-width="0"/>
<circle cx="101.40" cy="439.00" r="1.9" fill="#143f8c" stroke="none" stroke-width="0"/>
<circle cx="129.60" cy="395.40" r="2.0" fill="#4aa22e" stroke="none" stroke-width="0"/>
<circle cx="132.70" cy="410.80" r="2.0" fill="#4aa22e" stroke="none" stroke-width="0"/>
<circle cx="126.30" cy="414.20" r="2.0" fill="#4aa22e" stroke="none" stroke-width="0"/>
<circle cx="126.30" cy="425.60" r="2.0" fill="#4aa22e" stroke="none" stroke-width="0"/>
<circle cx="132.70" cy="431.00" r="2.0" fill="#4aa22e" stroke="none" stroke-width="0"/>
<circle cx="126.30" cy="433.50" r="2.0" fill="#4aa22e" stroke="none" stroke-width="0"/>
<circle cx="129.20" cy="437.30" r="2.0" fill="#4aa22e" stroke="none" stroke-width="0"/>
<circle cx="132.70" cy="437.30" r="2.0" fill="#4aa22e" stroke="none" stroke-width="0"/>
<line x1="129.60" y1="408.30" x2="129.60" y2="438.60" stroke="#222" stroke-width="1.0"/>
<line x1="123.40" y1="423.30" x2="135.80" y2="423.30" stroke="#222" stroke-width="1.15"/>
<line x1="126.40" y1="408.30" x2="132.80" y2="408.30" stroke="#222" stroke-width="1.0"/>
<line x1="126.40" y1="438.60" x2="132.80" y2="438.60" stroke="#222" stroke-width="1.0"/>
<circle cx="168.60" cy="412.10" r="1.9499999999999997" fill="none" stroke="#143f8c" stroke-width="0.8"/>
<circle cx="168.60" cy="430.30" r="1.9499999999999997" fill="none" stroke="#143f8c" stroke-width="0.8"/>
<circle cx="165.90" cy="433.80" r="1.9499999999999997" fill="none" stroke="#143f8c" stroke-width="0.8"/>
<circle cx="170.90" cy="433.80" r="1.9499999999999997" fill="none" stroke="#143f8c" stroke-width="0.8"/>
<circle cx="165.90" cy="436.00" r="1.9499999999999997" fill="none" stroke="#143f8c" stroke-width="0.8"/>
<circle cx="170.90" cy="436.00" r="1.9499999999999997" fill="none" stroke="#143f8c" stroke-width="0.8"/>
<circle cx="168.60" cy="438.00" r="1.9499999999999997" fill="none" stroke="#143f8c" stroke-width="0.8"/>
<line x1="168.80" y1="423.50" x2="168.80" y2="439.50" stroke="#222" stroke-width="1.0"/>
<line x1="162.80" y1="432.40" x2="174.80" y2="432.40" stroke="#222" stroke-width="1.15"/>
<line x1="165.80" y1="423.50" x2="171.80" y2="423.50" stroke="#222" stroke-width="1.0"/>
<line x1="165.80" y1="439.50" x2="171.80" y2="439.50" stroke="#222" stroke-width="1.0"/>
<circle cx="198.00" cy="376.80" r="1.9499999999999997" fill="none" stroke="#4aa22e" stroke-width="0.8"/>
<circle cx="198.00" cy="403.30" r="1.9499999999999997" fill="none" stroke="#4aa22e" stroke-width="0.8"/>
<circle cx="198.00" cy="416.50" r="1.9499999999999997" fill="none" stroke="#4aa22e" stroke-width="0.8"/>
<circle cx="198.00" cy="428.00" r="1.9499999999999997" fill="none" stroke="#4aa22e" stroke-width="0.8"/>
<circle cx="195.10" cy="431.30" r="1.9499999999999997" fill="none" stroke="#4aa22e" stroke-width="0.8"/>
<circle cx="201.10" cy="431.30" r="1.9499999999999997" fill="none" stroke="#4aa22e" stroke-width="0.8"/>
<circle cx="196.00" cy="434.30" r="1.9499999999999997" fill="none" stroke="#4aa22e" stroke-width="0.8"/>
<circle cx="200.10" cy="434.30" r="1.9499999999999997" fill="none" stroke="#4aa22e" stroke-width="0.8"/>
<line x1="198.00" y1="399.30" x2="198.00" y2="439.50" stroke="#222" stroke-width="1.0"/>
<line x1="192.00" y1="419.20" x2="204.00" y2="419.20" stroke="#222" stroke-width="1.15"/>
<line x1="195.00" y1="399.30" x2="201.00" y2="399.30" stroke="#222" stroke-width="1.0"/>
<line x1="195.00" y1="439.50" x2="201.00" y2="439.50" stroke="#222" stroke-width="1.0"/>
<line x1="100.30" y1="361.20" x2="129.50" y2="361.20" stroke="#1a1a1a" stroke-width="1.15"/>
<line x1="100.30" y1="359.40" x2="100.30" y2="363.00" stroke="#1a1a1a" stroke-width="1.0"/>
<line x1="129.50" y1="359.40" x2="129.50" y2="363.00" stroke="#1a1a1a" stroke-width="1.0"/>
<circle cx="111.40" cy="357.10" r="1.0" fill="#111" stroke="none" stroke-width="0"/>
<circle cx="114.90" cy="357.10" r="1.0" fill="#111" stroke="none" stroke-width="0"/>
<circle cx="118.40" cy="357.10" r="1.0" fill="#111" stroke="none" stroke-width="0"/>
<line x1="168.50" y1="360.90" x2="198.20" y2="360.90" stroke="#1a1a1a" stroke-width="1.15"/>
<line x1="168.50" y1="359.10" x2="168.50" y2="362.70" stroke="#1a1a1a" stroke-width="1.0"/>
<line x1="198.20" y1="359.10" x2="198.20" y2="362.70" stroke="#1a1a1a" stroke-width="1.0"/>
<circle cx="183.35" cy="356.80" r="1.0" fill="#111" stroke="none" stroke-width="0"/>
<text x="274.20" y="339.80" font-size="11.4" text-anchor="start" font-weight="bold" fill="#000" stroke="#000" stroke-width="0.45">E</text>
<text x="346.50" y="347.60" font-size="10.4" text-anchor="start" textLength="57.80" lengthAdjust="spacingAndGlyphs" fill="#1c1c1c" stroke="#1c1c1c" stroke-width="0.22">Bone Marrow</text>
<line x1="314.40" y1="356.40" x2="314.40" y2="440.70" stroke="#1a1a1a" stroke-width="1.4"/>
<line x1="313.70" y1="440.00" x2="435.70" y2="440.00" stroke="#1a1a1a" stroke-width="1.4"/>
<line x1="311.00" y1="440.00" x2="314.40" y2="440.00" stroke="#1a1a1a" stroke-width="1.0"/>
<text x="304.30" y="443.10" font-size="9.0" text-anchor="start" textLength="4.10" lengthAdjust="spacingAndGlyphs" fill="#1c1c1c" stroke="#1c1c1c" stroke-width="0.18">0</text>
<line x1="311.00" y1="423.84" x2="314.40" y2="423.84" stroke="#1a1a1a" stroke-width="1.0"/>
<text x="300.19" y="426.94" font-size="9.0" text-anchor="start" textLength="8.21" lengthAdjust="spacingAndGlyphs" fill="#1c1c1c" stroke="#1c1c1c" stroke-width="0.18">20</text>
<line x1="311.00" y1="407.68" x2="314.40" y2="407.68" stroke="#1a1a1a" stroke-width="1.0"/>
<text x="300.19" y="410.78" font-size="9.0" text-anchor="start" textLength="8.21" lengthAdjust="spacingAndGlyphs" fill="#1c1c1c" stroke="#1c1c1c" stroke-width="0.18">40</text>
<line x1="311.00" y1="391.52" x2="314.40" y2="391.52" stroke="#1a1a1a" stroke-width="1.0"/>
<text x="300.19" y="394.62" font-size="9.0" text-anchor="start" textLength="8.21" lengthAdjust="spacingAndGlyphs" fill="#1c1c1c" stroke="#1c1c1c" stroke-width="0.18">60</text>
<line x1="311.00" y1="375.36" x2="314.40" y2="375.36" stroke="#1a1a1a" stroke-width="1.0"/>
<text x="300.19" y="378.46" font-size="9.0" text-anchor="start" textLength="8.21" lengthAdjust="spacingAndGlyphs" fill="#1c1c1c" stroke="#1c1c1c" stroke-width="0.18">80</text>
<line x1="311.00" y1="359.20" x2="314.40" y2="359.20" stroke="#1a1a1a" stroke-width="1.0"/>
<text x="296.09" y="362.30" font-size="9.0" text-anchor="start" textLength="12.31" lengthAdjust="spacingAndGlyphs" fill="#1c1c1c" stroke="#1c1c1c" stroke-width="0.18">100</text>
<text transform="translate(290.20,442.00) rotate(-90)" x="0" y="0" font-size="10.6" textLength="87.10" lengthAdjust="spacingAndGlyphs" fill="#1c1c1c" stroke="#1c1c1c" stroke-width="0.2">%human (CD45+) EGFP+</text>
<line x1="326.90" y1="440.00" x2="326.90" y2="443.20" stroke="#1a1a1a" stroke-width="1.0"/>
<line x1="356.30" y1="440.00" x2="356.30" y2="443.20" stroke="#1a1a1a" stroke-width="1.0"/>
<line x1="394.40" y1="440.00" x2="394.40" y2="443.20" stroke="#1a1a1a" stroke-width="1.0"/>
<line x1="423.30" y1="440.00" x2="423.30" y2="443.20" stroke="#1a1a1a" stroke-width="1.0"/>
<text x="315.40" y="452.90" font-size="9.6" text-anchor="start" textLength="23.60" lengthAdjust="spacingAndGlyphs" fill="#1c1c1c" stroke="#1c1c1c" stroke-width="0.22">DMSO</text>
<text x="347.70" y="452.90" font-size="9.6" text-anchor="start" textLength="16.70" lengthAdjust="spacingAndGlyphs" fill="#1c1c1c" stroke="#1c1c1c" stroke-width="0.22">Cara</text>
<text x="382.90" y="452.90" font-size="9.6" text-anchor="start" textLength="23.90" lengthAdjust="spacingAndGlyphs" fill="#1c1c1c" stroke="#1c1c1c" stroke-width="0.22">DMSO</text>
<text x="415.50" y="452.90" font-size="9.6" text-anchor="start" textLength="15.80" lengthAdjust="spacingAndGlyphs" fill="#1c1c1c" stroke="#1c1c1c" stroke-width="0.22">Cara</text>
<line x1="315.40" y1="457.50" x2="363.50" y2="457.50" stroke="#2a2a2a" stroke-width="1.5"/>
<line x1="382.90" y1="457.50" x2="430.80" y2="457.50" stroke="#2a2a2a" stroke-width="1.5"/>
<text x="326.00" y="467.60" font-size="9.6" text-anchor="start" textLength="27.50" lengthAdjust="spacingAndGlyphs" fill="#1c1c1c" stroke="#1c1c1c" stroke-width="0.22">MOI 10</text>
<text x="393.80" y="467.60" font-size="9.6" text-anchor="start" textLength="26.60" lengthAdjust="spacingAndGlyphs" fill="#1c1c1c" stroke="#1c1c1c" stroke-width="0.22">MOI 25</text>
<circle cx="323.00" cy="437.80" r="1.9" fill="#143f8c" stroke="none" stroke-width="0"/>
<circle cx="325.00" cy="438.60" r="1.9" fill="#143f8c" stroke="none" stroke-width="0"/>
<circle cx="326.90" cy="439.50" r="1.9" fill="#143f8c" stroke="none" stroke-width="0"/>
<circle cx="328.80" cy="438.60" r="1.9" fill="#143f8c" stroke="none" stroke-width="0"/>
<circle cx="330.80" cy="437.80" r="1.9" fill="#143f8c" stroke="none" stroke-width="0"/>
<circle cx="326.90" cy="438.20" r="1.9" fill="#143f8c" stroke="none" stroke-width="0"/>
<circle cx="325.90" cy="439.00" r="1.9" fill="#143f8c" stroke="none" stroke-width="0"/>
<circle cx="327.90" cy="439.00" r="1.9" fill="#143f8c" stroke="none" stroke-width="0"/>
<circle cx="356.30" cy="396.40" r="2.0" fill="#4aa22e" stroke="none" stroke-width="0"/>
<circle cx="359.20" cy="416.60" r="2.0" fill="#4aa22e" stroke="none" stroke-width="0"/>
<circle cx="352.00" cy="418.90" r="2.0" fill="#4aa22e" stroke="none" stroke-width="0"/>
<circle cx="359.20" cy="424.70" r="2.0" fill="#4aa22e" stroke="none" stroke-width="0"/>
<circle cx="352.00" cy="429.60" r="2.0" fill="#4aa22e" stroke="none" stroke-width="0"/>
<circle cx="359.20" cy="430.50" r="2.0" fill="#4aa22e" stroke="none" stroke-width="0"/>
<circle cx="352.90" cy="439.10" r="2.0" fill="#4aa22e" stroke="none" stroke-width="0"/>
<circle cx="359.20" cy="439.10" r="2.0" fill="#4aa22e" stroke="none" stroke-width="0"/>
<line x1="356.30" y1="411.20" x2="356.30" y2="439.00" stroke="#222" stroke-width="1.0"/>
<line x1="349.80" y1="425.30" x2="362.80" y2="425.30" stroke="#222" stroke-width="1.15"/>
<line x1="353.10" y1="411.20" x2="359.50" y2="411.20" stroke="#222" stroke-width="1.0"/>
<line x1="353.10" y1="439.00" x2="359.50" y2="439.00" stroke="#222" stroke-width="1.0"/>
<circle cx="394.50" cy="401.30" r="1.9499999999999997" fill="none" stroke="#143f8c" stroke-width="0.8"/>
<circle cx="397.50" cy="418.80" r="1.9499999999999997" fill="none" stroke="#143f8c" stroke-width="0.8"/>
<circle cx="391.40" cy="423.30" r="1.9499999999999997" fill="none" stroke="#143f8c" stroke-width="0.8"/>
<circle cx="394.50" cy="431.30" r="1.9499999999999997" fill="none" stroke="#143f8c" stroke-width="0.8"/>
<circle cx="397.20" cy="435.60" r="1.9499999999999997" fill="none" stroke="#143f8c" stroke-width="0.8"/>
<circle cx="391.40" cy="437.00" r="1.9499999999999997" fill="none" stroke="#143f8c" stroke-width="0.8"/>
<circle cx="393.50" cy="438.70" r="1.9499999999999997" fill="none" stroke="#143f8c" stroke-width="0.8"/>
<line x1="394.40" y1="414.90" x2="394.40" y2="439.50" stroke="#222" stroke-width="1.0"/>
<line x1="388.30" y1="428.00" x2="400.50" y2="428.00" stroke="#222" stroke-width="1.15"/>
<line x1="391.40" y1="414.90" x2="397.40" y2="414.90" stroke="#222" stroke-width="1.0"/>
<line x1="391.40" y1="439.50" x2="397.40" y2="439.50" stroke="#222" stroke-width="1.0"/>
<circle cx="423.50" cy="372.10" r="1.9499999999999997" fill="none" stroke="#4aa22e" stroke-width="0.8"/>
<circle cx="423.50" cy="404.40" r="1.9499999999999997" fill="none" stroke="#4aa22e" stroke-width="0.8"/>
<circle cx="423.50" cy="413.20" r="1.9499999999999997" fill="none" stroke="#4aa22e" stroke-width="0.8"/>
<circle cx="420.10" cy="421.20" r="1.9499999999999997" fill="none" stroke="#4aa22e" stroke-width="0.8"/>
<circle cx="426.80" cy="421.20" r="1.9499999999999997" fill="none" stroke="#4aa22e" stroke-width="0.8"/>
<circle cx="420.10" cy="425.70" r="1.9499999999999997" fill="none" stroke="#4aa22e" stroke-width="0.8"/>
<circle cx="426.80" cy="425.70" r="1.9499999999999997" fill="none" stroke="#4aa22e" stroke-width="0.8"/>
<circle cx="423.50" cy="429.30" r="1.9499999999999997" fill="none" stroke="#4aa22e" stroke-width="0.8"/>
<line x1="423.60" y1="395.70" x2="423.60" y2="433.40" stroke="#222" stroke-width="1.0"/>
<line x1="417.50" y1="414.50" x2="429.70" y2="414.50" stroke="#222" stroke-width="1.15"/>
<line x1="420.60" y1="395.70" x2="426.60" y2="395.70" stroke="#222" stroke-width="1.0"/>
<line x1="420.60" y1="433.40" x2="426.60" y2="433.40" stroke="#222" stroke-width="1.0"/>
<line x1="327.30" y1="362.60" x2="356.50" y2="362.60" stroke="#1a1a1a" stroke-width="1.15"/>
<line x1="327.30" y1="360.80" x2="327.30" y2="364.40" stroke="#1a1a1a" stroke-width="1.0"/>
<line x1="356.50" y1="360.80" x2="356.50" y2="364.40" stroke="#1a1a1a" stroke-width="1.0"/>
<circle cx="338.40" cy="358.50" r="1.0" fill="#111" stroke="none" stroke-width="0"/>
<circle cx="341.90" cy="358.50" r="1.0" fill="#111" stroke="none" stroke-width="0"/>
<circle cx="345.40" cy="358.50" r="1.0" fill="#111" stroke="none" stroke-width="0"/>
<line x1="394.50" y1="362.40" x2="423.50" y2="362.40" stroke="#1a1a1a" stroke-width="1.15"/>
<line x1="394.50" y1="360.60" x2="394.50" y2="364.20" stroke="#1a1a1a" stroke-width="1.0"/>
<line x1="423.50" y1="360.60" x2="423.50" y2="364.20" stroke="#1a1a1a" stroke-width="1.0"/>
<circle cx="409.00" cy="358.30" r="1.0" fill="#111" stroke="none" stroke-width="0"/>
<text x="6.90" y="490.60" font-size="11.4" text-anchor="start" font-weight="bold" fill="#000" stroke="#000" stroke-width="0.45">F</text>
<text x="50.50" y="500.50" font-size="10.4" text-anchor="start" textLength="115.00" lengthAdjust="spacingAndGlyphs" fill="#1c1c1c" stroke="#1c1c1c" stroke-width="0.22">Bone Marrow Engraftment</text>
<line x1="47.30" y1="514.40" x2="47.30" y2="596.20" stroke="#1a1a1a" stroke-width="1.4"/>
<line x1="46.60" y1="595.50" x2="168.40" y2="595.50" stroke="#1a1a1a" stroke-width="1.4"/>
<line x1="43.90" y1="595.50" x2="47.30" y2="595.50" stroke="#1a1a1a" stroke-width="1.0"/>
<text x="36.50" y="598.60" font-size="9.0" text-anchor="start" textLength="4.10" lengthAdjust="spacingAndGlyphs" fill="#1c1c1c" stroke="#1c1c1c" stroke-width="0.18">0</text>
<line x1="43.90" y1="580.66" x2="47.30" y2="580.66" stroke="#1a1a1a" stroke-width="1.0"/>
<text x="32.39" y="583.76" font-size="9.0" text-anchor="start" textLength="8.21" lengthAdjust="spacingAndGlyphs" fill="#1c1c1c" stroke="#1c1c1c" stroke-width="0.18">20</text>
<line x1="43.90" y1="565.82" x2="47.30" y2="565.82" stroke="#1a1a1a" stroke-width="1.0"/>
<text x="32.39" y="568.92" font-size="9.0" text-anchor="start" textLength="8.21" lengthAdjust="spacingAndGlyphs" fill="#1c1c1c" stroke="#1c1c1c" stroke-width="0.18">40</text>
<line x1="43.90" y1="550.98" x2="47.30" y2="550.98" stroke="#1a1a1a" stroke-width="1.0"/>
<text x="32.39" y="554.08" font-size="9.0" text-anchor="start" textLength="8.21" lengthAdjust="spacingAndGlyphs" fill="#1c1c1c" stroke="#1c1c1c" stroke-width="0.18">60</text>
<line x1="43.90" y1="536.14" x2="47.30" y2="536.14" stroke="#1a1a1a" stroke-width="1.0"/>
<text x="32.39" y="539.24" font-size="9.0" text-anchor="start" textLength="8.21" lengthAdjust="spacingAndGlyphs" fill="#1c1c1c" stroke="#1c1c1c" stroke-width="0.18">80</text>
<line x1="43.90" y1="521.30" x2="47.30" y2="521.30" stroke="#1a1a1a" stroke-width="1.0"/>
<text x="28.29" y="524.40" font-size="9.0" text-anchor="start" textLength="12.31" lengthAdjust="spacingAndGlyphs" fill="#1c1c1c" stroke="#1c1c1c" stroke-width="0.18">100</text>
<text transform="translate(22.90,585.50) rotate(-90)" x="0" y="0" font-size="10.4" textLength="62.40" lengthAdjust="spacingAndGlyphs" fill="#1c1c1c" stroke="#1c1c1c" stroke-width="0.2">%human (CD45+)</text>
<line x1="59.60" y1="595.50" x2="59.60" y2="598.70" stroke="#1a1a1a" stroke-width="1.0"/>
<line x1="88.80" y1="595.50" x2="88.80" y2="598.70" stroke="#1a1a1a" stroke-width="1.0"/>
<line x1="126.80" y1="595.50" x2="126.80" y2="598.70" stroke="#1a1a1a" stroke-width="1.0"/>
<line x1="156.00" y1="595.50" x2="156.00" y2="598.70" stroke="#1a1a1a" stroke-width="1.0"/>
<text x="47.70" y="608.40" font-size="9.6" text-anchor="start" textLength="23.80" lengthAdjust="spacingAndGlyphs" fill="#1c1c1c" stroke="#1c1c1c" stroke-width="0.22">DMSO</text>
<text x="80.40" y="608.40" font-size="9.6" text-anchor="start" textLength="16.10" lengthAdjust="spacingAndGlyphs" fill="#1c1c1c" stroke="#1c1c1c" stroke-width="0.22">Cara</text>
<text x="114.90" y="608.40" font-size="9.6" text-anchor="start" textLength="24.30" lengthAdjust="spacingAndGlyphs" fill="#1c1c1c" stroke="#1c1c1c" stroke-width="0.22">DMSO</text>
<text x="147.50" y="608.40" font-size="9.6" text-anchor="start" textLength="16.60" lengthAdjust="spacingAndGlyphs" fill="#1c1c1c" stroke="#1c1c1c" stroke-width="0.22">Cara</text>
<line x1="47.70" y1="613.10" x2="96.50" y2="613.10" stroke="#2a2a2a" stroke-width="1.5"/>
<line x1="115.00" y1="613.10" x2="163.60" y2="613.10" stroke="#2a2a2a" stroke-width="1.5"/>
<text x="58.80" y="622.80" font-size="9.6" text-anchor="start" textLength="26.90" lengthAdjust="spacingAndGlyphs" fill="#1c1c1c" stroke="#1c1c1c" stroke-width="0.22">MOI 10</text>
<text x="126.10" y="622.80" font-size="9.6" text-anchor="start" textLength="27.60" lengthAdjust="spacingAndGlyphs" fill="#1c1c1c" stroke="#1c1c1c" stroke-width="0.22">MOI 25</text>
<circle cx="55.80" cy="528.30" r="2.0" fill="#143f8c" stroke="none" stroke-width="0"/>
<circle cx="58.70" cy="528.30" r="2.0" fill="#143f8c" stroke="none" stroke-width="0"/>
<circle cx="62.50" cy="525.00" r="2.0" fill="#143f8c" stroke="none" stroke-width="0"/>
<circle cx="59.60" cy="539.40" r="2.0" fill="#143f8c" stroke="none" stroke-width="0"/>
<circle cx="56.30" cy="546.50" r="2.0" fill="#143f8c" stroke="none" stroke-width="0"/>
<circle cx="62.50" cy="551.00" r="2.0" fill="#143f8c" stroke="none" stroke-width="0"/>
<circle cx="59.60" cy="557.30" r="2.0" fill="#143f8c" stroke="none" stroke-width="0"/>
<line x1="59.60" y1="529.20" x2="59.60" y2="552.00" stroke="#222" stroke-width="1.0"/>
<line x1="53.60" y1="539.40" x2="65.60" y2="539.40" stroke="#222" stroke-width="1.15"/>
<line x1="56.60" y1="529.20" x2="62.60" y2="529.20" stroke="#222" stroke-width="1.0"/>
<line x1="56.60" y1="552.00" x2="62.60" y2="552.00" stroke="#222" stroke-width="1.0"/>
<circle cx="85.00" cy="522.70" r="2.0" fill="#4aa22e" stroke="none" stroke-width="0"/>
<circle cx="88.50" cy="522.10" r="2.0" fill="#4aa22e" stroke="none" stroke-width="0"/>
<circle cx="86.50" cy="525.00" r="2.0" fill="#4aa22e" stroke="none" stroke-width="0"/>
<circle cx="91.90" cy="525.40" r="2.0" fill="#4aa22e" stroke="none" stroke-width="0"/>
<circle cx="88.80" cy="527.90" r="2.0" fill="#4aa22e" stroke="none" stroke-width="0"/>
<circle cx="86.80" cy="527.60" r="2.0" fill="#4aa22e" stroke="none" stroke-width="0"/>
<circle cx="90.60" cy="528.20" r="2.0" fill="#4aa22e" stroke="none" stroke-width="0"/>
<circle cx="88.50" cy="546.50" r="2.0" fill="#4aa22e" stroke="none" stroke-width="0"/>
<circle cx="88.50" cy="553.80" r="2.0" fill="#4aa22e" stroke="none" stroke-width="0"/>
<line x1="88.60" y1="520.60" x2="88.60" y2="543.70" stroke="#222" stroke-width="1.0"/>
<line x1="82.60" y1="532.10" x2="94.60" y2="532.10" stroke="#222" stroke-width="1.15"/>
<line x1="85.60" y1="520.60" x2="91.60" y2="520.60" stroke="#222" stroke-width="1.0"/>
<line x1="85.60" y1="543.70" x2="91.60" y2="543.70" stroke="#222" stroke-width="1.0"/>
<circle cx="123.30" cy="522.80" r="1.9499999999999997" fill="none" stroke="#143f8c" stroke-width="0.8"/>
<circle cx="130.40" cy="522.80" r="1.9499999999999997" fill="none" stroke="#143f8c" stroke-width="0.8"/>
<circle cx="126.80" cy="524.00" r="1.9499999999999997" fill="none" stroke="#143f8c" stroke-width="0.8"/>
<circle cx="123.30" cy="537.00" r="1.9499999999999997" fill="none" stroke="#143f8c" stroke-width="0.8"/>
<circle cx="130.40" cy="538.20" r="1.9499999999999997" fill="none" stroke="#143f8c" stroke-width="0.8"/>
<circle cx="126.80" cy="540.60" r="1.9499999999999997" fill="none" stroke="#143f8c" stroke-width="0.8"/>
<circle cx="126.80" cy="563.60" r="1.9499999999999997" fill="none" stroke="#143f8c" stroke-width="0.8"/>
<line x1="126.80" y1="521.60" x2="126.80" y2="549.60" stroke="#222" stroke-width="1.0"/>
<line x1="120.80" y1="536.50" x2="132.80" y2="536.50" stroke="#222" stroke-width="1.15"/>
<line x1="123.80" y1="521.60" x2="129.80" y2="521.60" stroke="#222" stroke-width="1.0"/>
<line x1="123.80" y1="549.60" x2="129.80" y2="549.60" stroke="#222" stroke-width="1.0"/>
<circle cx="153.00" cy="522.30" r="1.9499999999999997" fill="none" stroke="#4aa22e" stroke-width="0.8"/>
<circle cx="158.90" cy="522.80" r="1.9499999999999997" fill="none" stroke="#4aa22e" stroke-width="0.8"/>
<circle cx="156.00" cy="526.30" r="1.9499999999999997" fill="none" stroke="#4aa22e" stroke-width="0.8"/>
<circle cx="156.00" cy="537.00" r="1.9499999999999997" fill="none" stroke="#4aa22e" stroke-width="0.8"/>
<circle cx="156.50" cy="542.20" r="1.9499999999999997" fill="none" stroke="#4aa22e" stroke-width="0.8"/>
<circle cx="153.00" cy="548.20" r="1.9499999999999997" fill="none" stroke="#4aa22e" stroke-width="0.8"/>
<circle cx="159.40" cy="547.20" r="1.9499999999999997" fill="none" stroke="#4aa22e" stroke-width="0.8"/>
<line x1="156.00" y1="520.90" x2="156.00" y2="543.00" stroke="#222" stroke-width="1.0"/>
<line x1="150.00" y1="531.80" x2="162.00" y2="531.80" stroke="#222" stroke-width="1.15"/>
<line x1="153.00" y1="520.90" x2="159.00" y2="520.90" stroke="#222" stroke-width="1.0"/>
<line x1="153.00" y1="543.00" x2="159.00" y2="543.00" stroke="#222" stroke-width="1.0"/>
<line x1="60.20" y1="515.40" x2="89.40" y2="515.40" stroke="#1a1a1a" stroke-width="1.15"/>
<line x1="60.20" y1="513.60" x2="60.20" y2="517.20" stroke="#1a1a1a" stroke-width="1.0"/>
<line x1="89.40" y1="513.60" x2="89.40" y2="517.20" stroke="#1a1a1a" stroke-width="1.0"/>
<text x="74.80" y="512.80" font-size="7.0" text-anchor="middle" fill="#1c1c1c" stroke="#1c1c1c" stroke-width="0.18">ns</text>
<line x1="126.80" y1="515.20" x2="156.00" y2="515.20" stroke="#1a1a1a" stroke-width="1.15"/>
<line x1="126.80" y1="513.40" x2="126.80" y2="517.00" stroke="#1a1a1a" stroke-width="1.0"/>
<line x1="156.00" y1="513.40" x2="156.00" y2="517.00" stroke="#1a1a1a" stroke-width="1.0"/>
<text x="141.40" y="512.60" font-size="7.0" text-anchor="middle" fill="#1c1c1c" stroke="#1c1c1c" stroke-width="0.18">ns</text>
<text x="177.80" y="490.50" font-size="11.4" text-anchor="start" font-weight="bold" fill="#000" stroke="#000" stroke-width="0.45">G</text>
<text x="238.70" y="500.40" font-size="10.4" text-anchor="start" textLength="80.70" lengthAdjust="spacingAndGlyphs" fill="#1c1c1c" stroke="#1c1c1c" stroke-width="0.22">Bone Marrow VCN</text>
<line x1="217.40" y1="511.60" x2="217.40" y2="596.30" stroke="#1a1a1a" stroke-width="1.4"/>
<line x1="216.70" y1="595.60" x2="340.50" y2="595.60" stroke="#1a1a1a" stroke-width="1.4"/>
<line x1="214.00" y1="595.60" x2="217.40" y2="595.60" stroke="#1a1a1a" stroke-width="1.0"/>
<text x="202.24" y="598.70" font-size="9.0" text-anchor="start" textLength="10.26" lengthAdjust="spacingAndGlyphs" fill="#1c1c1c" stroke="#1c1c1c" stroke-width="0.18">0.0</text>
<line x1="214.00" y1="568.47" x2="217.40" y2="568.47" stroke="#1a1a1a" stroke-width="1.0"/>
<text x="202.24" y="571.57" font-size="9.0" text-anchor="start" textLength="10.26" lengthAdjust="spacingAndGlyphs" fill="#1c1c1c" stroke="#1c1c1c" stroke-width="0.18">0.5</text>
<line x1="214.00" y1="541.34" x2="217.40" y2="541.34" stroke="#1a1a1a" stroke-width="1.0"/>
<text x="202.24" y="544.44" font-size="9.0" text-anchor="start" textLength="10.26" lengthAdjust="spacingAndGlyphs" fill="#1c1c1c" stroke="#1c1c1c" stroke-width="0.18">1.0</text>
<line x1="214.00" y1="514.21" x2="217.40" y2="514.21" stroke="#1a1a1a" stroke-width="1.0"/>
<text x="202.24" y="517.31" font-size="9.0" text-anchor="start" textLength="10.26" lengthAdjust="spacingAndGlyphs" fill="#1c1c1c" stroke="#1c1c1c" stroke-width="0.18">1.5</text>
<text transform="translate(195.60,583.80) rotate(-90)" x="0" y="0" font-size="10.2" textLength="56.40" lengthAdjust="spacingAndGlyphs" fill="#1c1c1c" stroke="#1c1c1c" stroke-width="0.15">Vector copy # / ce</text>
<line x1="188.30" y1="525.70" x2="195.60" y2="525.70" stroke="#1c1c1c" stroke-width="0.95"/>
<line x1="188.30" y1="523.30" x2="195.60" y2="523.30" stroke="#1c1c1c" stroke-width="0.95"/>
<line x1="231.00" y1="595.60" x2="231.00" y2="598.80" stroke="#1a1a1a" stroke-width="1.0"/>
<line x1="260.00" y1="595.60" x2="260.00" y2="598.80" stroke="#1a1a1a" stroke-width="1.0"/>
<line x1="298.00" y1="595.60" x2="298.00" y2="598.80" stroke="#1a1a1a" stroke-width="1.0"/>
<line x1="326.90" y1="595.60" x2="326.90" y2="598.80" stroke="#1a1a1a" stroke-width="1.0"/>
<text x="218.70" y="608.50" font-size="9.6" text-anchor="start" textLength="24.00" lengthAdjust="spacingAndGlyphs" fill="#1c1c1c" stroke="#1c1c1c" stroke-width="0.22">DMSO</text>
<text x="251.90" y="608.50" font-size="9.6" text-anchor="start" textLength="16.50" lengthAdjust="spacingAndGlyphs" fill="#1c1c1c" stroke="#1c1c1c" stroke-width="0.22">Cara</text>
<text x="286.00" y="608.50" font-size="9.6" text-anchor="start" textLength="24.20" lengthAdjust="spacingAndGlyphs" fill="#1c1c1c" stroke="#1c1c1c" stroke-width="0.22">DMSO</text>
<text x="318.80" y="608.50" font-size="9.6" text-anchor="start" textLength="16.80" lengthAdjust="spacingAndGlyphs" fill="#1c1c1c" stroke="#1c1c1c" stroke-width="0.22">Cara</text>
<line x1="219.60" y1="613.40" x2="267.80" y2="613.40" stroke="#2a2a2a" stroke-width="1.5"/>
<line x1="286.50" y1="613.40" x2="335.00" y2="613.40" stroke="#2a2a2a" stroke-width="1.5"/>
<text x="228.80" y="622.90" font-size="9.6" text-anchor="start" textLength="28.00" lengthAdjust="spacingAndGlyphs" fill="#1c1c1c" stroke="#1c1c1c" stroke-width="0.22">MOI 10</text>
<text x="296.60" y="622.90" font-size="9.6" text-anchor="start" textLength="27.40" lengthAdjust="spacingAndGlyphs" fill="#1c1c1c" stroke="#1c1c1c" stroke-width="0.22">MOI 25</text>
<circle cx="227.10" cy="593.40" r="1.9" fill="#143f8c" stroke="none" stroke-width="0"/>
<circle cx="229.10" cy="594.20" r="1.9" fill="#143f8c" stroke="none" stroke-width="0"/>
<circle cx="231.00" cy="595.10" r="1.9" fill="#143f8c" stroke="none" stroke-width="0"/>
<circle cx="232.90" cy="594.20" r="1.9" fill="#143f8c" stroke="none" stroke-width="0"/>
<circle cx="234.90" cy="593.40" r="1.9" fill="#143f8c" stroke="none" stroke-width="0"/>
<circle cx="231.00" cy="593.80" r="1.9" fill="#143f8c" stroke="none" stroke-width="0"/>
<circle cx="230.00" cy="594.60" r="1.9" fill="#143f8c" stroke="none" stroke-width="0"/>
<circle cx="232.00" cy="594.60" r="1.9" fill="#143f8c" stroke="none" stroke-width="0"/>
<circle cx="256.40" cy="547.60" r="2.0" fill="#4aa22e" stroke="none" stroke-width="0"/>
<circle cx="262.90" cy="546.50" r="2.0" fill="#4aa22e" stroke="none" stroke-width="0"/>
<circle cx="259.40" cy="559.80" r="2.0" fill="#4aa22e" stroke="none" stroke-width="0"/>
<circle cx="259.40" cy="573.20" r="2.0" fill="#4aa22e" stroke="none" stroke-width="0"/>
<circle cx="256.40" cy="576.60" r="2.0" fill="#4aa22e" stroke="none" stroke-width="0"/>
<circle cx="262.60" cy="579.90" r="2.0" fill="#4aa22e" stroke="none" stroke-width="0"/>
<circle cx="262.60" cy="591.10" r="2.0" fill="#4aa22e" stroke="none" stroke-width="0"/>
<circle cx="256.40" cy="593.40" r="2.0" fill="#4aa22e" stroke="none" stroke-width="0"/>
<line x1="259.50" y1="552.60" x2="259.50" y2="589.20" stroke="#222" stroke-width="1.0"/>
<line x1="253.30" y1="570.90" x2="265.70" y2="570.90" stroke="#222" stroke-width="1.15"/>
<line x1="256.30" y1="552.60" x2="262.70" y2="552.60" stroke="#222" stroke-width="1.0"/>
<line x1="256.30" y1="589.20" x2="262.70" y2="589.20" stroke="#222" stroke-width="1.0"/>
<circle cx="298.10" cy="557.90" r="1.9499999999999997" fill="none" stroke="#143f8c" stroke-width="0.8"/>
<circle cx="298.10" cy="570.10" r="1.9499999999999997" fill="none" stroke="#143f8c" stroke-width="0.8"/>
<circle cx="298.10" cy="579.30" r="1.9499999999999997" fill="none" stroke="#143f8c" stroke-width="0.8"/>
<circle cx="298.10" cy="585.90" r="1.9499999999999997" fill="none" stroke="#143f8c" stroke-width="0.8"/>
<circle cx="295.00" cy="590.70" r="1.9499999999999997" fill="none" stroke="#143f8c" stroke-width="0.8"/>
<circle cx="301.40" cy="590.70" r="1.9499999999999997" fill="none" stroke="#143f8c" stroke-width="0.8"/>
<circle cx="296.60" cy="595.00" r="1.9499999999999997" fill="none" stroke="#143f8c" stroke-width="0.8"/>
<line x1="298.30" y1="570.10" x2="298.30" y2="595.00" stroke="#222" stroke-width="1.0"/>
<line x1="292.30" y1="582.90" x2="304.30" y2="582.90" stroke="#222" stroke-width="1.15"/>
<line x1="295.30" y1="570.10" x2="301.30" y2="570.10" stroke="#222" stroke-width="1.0"/>
<line x1="295.30" y1="595.00" x2="301.30" y2="595.00" stroke="#222" stroke-width="1.0"/>
<circle cx="327.30" cy="538.30" r="1.9499999999999997" fill="none" stroke="#4aa22e" stroke-width="0.8"/>
<circle cx="327.30" cy="546.40" r="1.9499999999999997" fill="none" stroke="#4aa22e" stroke-width="0.8"/>
<circle cx="330.40" cy="557.10" r="1.9499999999999997" fill="none" stroke="#4aa22e" stroke-width="0.8"/>
<circle cx="324.30" cy="559.70" r="1.9499999999999997" fill="none" stroke="#4aa22e" stroke-width="0.8"/>
<circle cx="327.30" cy="569.90" r="1.9499999999999997" fill="none" stroke="#4aa22e" stroke-width="0.8"/>
<circle cx="324.30" cy="579.60" r="1.9499999999999997" fill="none" stroke="#4aa22e" stroke-width="0.8"/>
<circle cx="330.40" cy="584.00" r="1.9499999999999997" fill="none" stroke="#4aa22e" stroke-width="0.8"/>
<circle cx="327.10" cy="585.40" r="1.9499999999999997" fill="none" stroke="#4aa22e" stroke-width="0.8"/>
<line x1="327.50" y1="547.50" x2="327.50" y2="582.00" stroke="#222" stroke-width="1.0"/>
<line x1="321.50" y1="565.20" x2="333.50" y2="565.20" stroke="#222" stroke-width="1.15"/>
<line x1="324.50" y1="547.50" x2="330.50" y2="547.50" stroke="#222" stroke-width="1.0"/>
<line x1="324.50" y1="582.00" x2="330.50" y2="582.00" stroke="#222" stroke-width="1.0"/>
<line x1="231.00" y1="525.90" x2="260.20" y2="525.90" stroke="#1a1a1a" stroke-width="1.15"/>
<line x1="231.00" y1="524.10" x2="231.00" y2="527.70" stroke="#1a1a1a" stroke-width="1.0"/>
<line x1="260.20" y1="524.10" x2="260.20" y2="527.70" stroke="#1a1a1a" stroke-width="1.0"/>
<circle cx="243.85" cy="521.80" r="1.0" fill="#111" stroke="none" stroke-width="0"/>
<circle cx="247.35" cy="521.80" r="1.0" fill="#111" stroke="none" stroke-width="0"/>
<line x1="298.30" y1="525.90" x2="327.10" y2="525.90" stroke="#1a1a1a" stroke-width="1.15"/>
<line x1="298.30" y1="524.10" x2="298.30" y2="527.70" stroke="#1a1a1a" stroke-width="1.0"/>
<line x1="327.10" y1="524.10" x2="327.10" y2="527.70" stroke="#1a1a1a" stroke-width="1.0"/>
<circle cx="312.70" cy="521.80" r="1.0" fill="#111" stroke="none" stroke-width="0"/>
<text x="348.80" y="490.60" font-size="11.4" text-anchor="start" font-weight="bold" fill="#000" stroke="#000" stroke-width="0.45">H</text>
<text x="405.50" y="495.00" font-size="10.4" text-anchor="start" textLength="93.30" lengthAdjust="spacingAndGlyphs" fill="#1c1c1c" stroke="#1c1c1c" stroke-width="0.22">Re-Engraftment Bone</text>
<text x="416.30" y="506.20" font-size="10.4" text-anchor="start" textLength="71.20" lengthAdjust="spacingAndGlyphs" fill="#1c1c1c" stroke="#1c1c1c" stroke-width="0.22">Marrow Marking</text>
<line x1="391.00" y1="511.40" x2="391.00" y2="596.00" stroke="#1a1a1a" stroke-width="1.4"/>
<line x1="390.30" y1="595.30" x2="512.50" y2="595.30" stroke="#1a1a1a" stroke-width="1.4"/>
<line x1="387.60" y1="595.30" x2="391.00" y2="595.30" stroke="#1a1a1a" stroke-width="1.0"/>
<text x="381.50" y="598.40" font-size="9.0" text-anchor="start" textLength="4.10" lengthAdjust="spacingAndGlyphs" fill="#1c1c1c" stroke="#1c1c1c" stroke-width="0.18">0</text>
<line x1="387.60" y1="579.04" x2="391.00" y2="579.04" stroke="#1a1a1a" stroke-width="1.0"/>
<text x="377.39" y="582.14" font-size="9.0" text-anchor="start" textLength="8.21" lengthAdjust="spacingAndGlyphs" fill="#1c1c1c" stroke="#1c1c1c" stroke-width="0.18">20</text>
<line x1="387.60" y1="562.78" x2="391.00" y2="562.78" stroke="#1a1a1a" stroke-width="1.0"/>
<text x="377.39" y="565.88" font-size="9.0" text-anchor="start" textLength="8.21" lengthAdjust="spacingAndGlyphs" fill="#1c1c1c" stroke="#1c1c1c" stroke-width="0.18">40</text>
<line x1="387.60" y1="546.52" x2="391.00" y2="546.52" stroke="#1a1a1a" stroke-width="1.0"/>
<text x="377.39" y="549.62" font-size="9.0" text-anchor="start" textLength="8.21" lengthAdjust="spacingAndGlyphs" fill="#1c1c1c" stroke="#1c1c1c" stroke-width="0.18">60</text>
<line x1="387.60" y1="530.26" x2="391.00" y2="530.26" stroke="#1a1a1a" stroke-width="1.0"/>
<text x="377.39" y="533.36" font-size="9.0" text-anchor="start" textLength="8.21" lengthAdjust="spacingAndGlyphs" fill="#1c1c1c" stroke="#1c1c1c" stroke-width="0.18">80</text>
<line x1="387.60" y1="514.00" x2="391.00" y2="514.00" stroke="#1a1a1a" stroke-width="1.0"/>
<text x="373.29" y="517.10" font-size="9.0" text-anchor="start" textLength="12.31" lengthAdjust="spacingAndGlyphs" fill="#1c1c1c" stroke="#1c1c1c" stroke-width="0.18">100</text>
<text transform="translate(366.80,597.00) rotate(-90)" x="0" y="0" font-size="10.6" textLength="85.20" lengthAdjust="spacingAndGlyphs" fill="#1c1c1c" stroke="#1c1c1c" stroke-width="0.2">%human(CD45+) EGFP+</text>
<line x1="421.30" y1="595.30" x2="421.30" y2="598.50" stroke="#1a1a1a" stroke-width="1.0"/>
<line x1="482.50" y1="595.30" x2="482.50" y2="598.50" stroke="#1a1a1a" stroke-width="1.0"/>
<text x="408.00" y="608.40" font-size="9.6" text-anchor="start" textLength="27.50" lengthAdjust="spacingAndGlyphs" fill="#1c1c1c" stroke="#1c1c1c" stroke-width="0.22">Primary</text>
<text x="463.75" y="608.40" font-size="9.6" text-anchor="start" textLength="37.50" lengthAdjust="spacingAndGlyphs" fill="#1c1c1c" stroke="#1c1c1c" stroke-width="0.22">Secondary</text>
<line x1="411.25" y1="613.00" x2="498.25" y2="613.00" stroke="#2a2a2a" stroke-width="1.5"/>
<text x="441.25" y="622.90" font-size="9.6" text-anchor="start" textLength="27.00" lengthAdjust="spacingAndGlyphs" fill="#1c1c1c" stroke="#1c1c1c" stroke-width="0.22">MOI 25</text>
<line x1="421.30" y1="552.00" x2="482.50" y2="520.00" stroke="#5aae3a" stroke-width="0.9"/>
<line x1="421.30" y1="548.00" x2="482.50" y2="524.50" stroke="#5aae3a" stroke-width="0.9"/>
<line x1="421.30" y1="584.40" x2="482.50" y2="575.60" stroke="#5aae3a" stroke-width="0.9"/>
<rect x="419.3" y="550.0" width="4" height="4" fill="none" stroke="#5aae3a" stroke-width="0.8"/>
<rect x="480.5" y="518.0" width="4" height="4" fill="none" stroke="#5aae3a" stroke-width="0.8"/>
<polygon points="421.3,545.6 423.5,549.6 419.1,549.6" fill="none" stroke="#5aae3a" stroke-width="0.8"/>
<polygon points="482.5,522.2 484.7,526.2 480.3,526.2" fill="none" stroke="#5aae3a" stroke-width="0.8"/>
<polygon points="421.3,586.4 423.5,582.4 419.1,582.4" fill="none" stroke="#5aae3a" stroke-width="0.8"/>
<polygon points="482.5,577.6 484.7,573.6 480.3,573.6" fill="none" stroke="#5aae3a" stroke-width="0.8"/>
<line x1="421.30" y1="588.00" x2="482.50" y2="594.00" stroke="#1f4a8e" stroke-width="0.8"/>
<line x1="421.30" y1="590.60" x2="482.50" y2="594.00" stroke="#1f4a8e" stroke-width="0.8"/>
<line x1="421.30" y1="592.60" x2="482.50" y2="594.00" stroke="#1f4a8e" stroke-width="0.8"/>
<polygon points="421.3,585.6 423.4,589.4 419.2,589.4" fill="none" stroke="#1f4a8e" stroke-width="0.8"/>
<circle cx="421.30" cy="590.60" r="2.0" fill="none" stroke="#1f4a8e" stroke-width="0.8"/>
<polygon points="421.3,589.6 423.3,592.2 421.3,594.8 419.3,592.2" fill="none" stroke="#1f4a8e" stroke-width="0.8"/>
<line x1="419.60" y1="591.00" x2="423.00" y2="591.00" stroke="#1f4a8e" stroke-width="0.7"/>
<rect x="480.3" y="592.0" width="4.4" height="4" fill="#1f4a8e"/>
<rect x="0" y="0" width="520" height="1" fill="#000"/><rect x="0" y="0" width="1" height="632" fill="#000"/><rect x="518.8" y="0" width="1.2" height="632" fill="#000"/><rect x="0" y="630.8" width="520" height="1.2" fill="#000"/>
</svg>
</body></html>
